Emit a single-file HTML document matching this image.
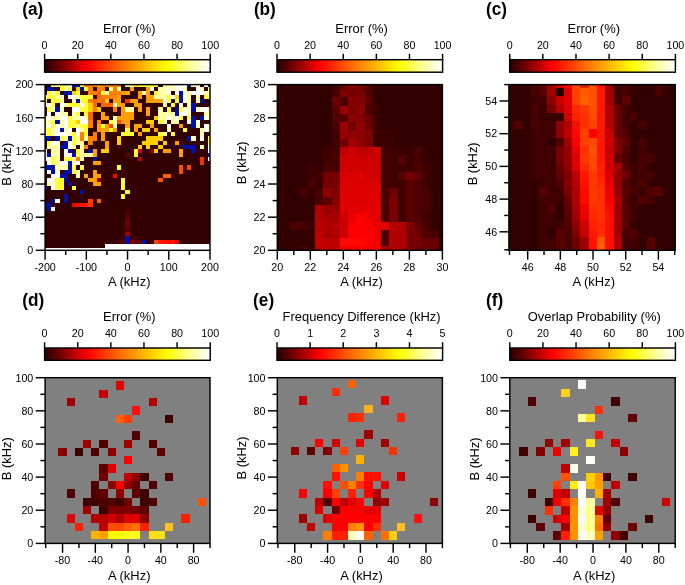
<!DOCTYPE html>
<html><head><meta charset="utf-8"><title>Figure</title>
<style>html,body{margin:0;padding:0;background:#fff}svg{display:block}</style></head>
<body>
<svg width="685" height="585" viewBox="0 0 685 585">
<defs><linearGradient id="hot" x1="0" y1="0" x2="1" y2="0">
<stop offset="0" stop-color="#240000"/><stop offset="0.13" stop-color="#900000"/><stop offset="0.26" stop-color="#ff0000"/>
<stop offset="0.5" stop-color="#ff8400"/><stop offset="0.74" stop-color="#ffff00"/><stop offset="0.87" stop-color="#ffff90"/><stop offset="1" stop-color="#ffffff"/>
</linearGradient></defs>
<rect width="685" height="585" fill="#fff"/>
<g shape-rendering="crispEdges">
<rect x="45.10" y="84.60" width="164.90" height="165.70" fill="#330000"/>
<rect x="51.28" y="84.60" width="4.12" height="2.07" fill="#ffff34"/>
<rect x="55.41" y="84.60" width="4.12" height="2.07" fill="#ffffa4"/>
<rect x="59.53" y="84.60" width="4.12" height="2.07" fill="#ffff34"/>
<rect x="63.65" y="84.60" width="8.25" height="2.07" fill="#ffffa4"/>
<rect x="71.90" y="84.60" width="8.24" height="2.07" fill="#0010a8"/>
<rect x="80.14" y="84.60" width="4.12" height="2.07" fill="#ffff34"/>
<rect x="84.26" y="84.60" width="12.37" height="2.07" fill="#ff8000"/>
<rect x="96.63" y="84.60" width="4.12" height="2.07" fill="#ffa000"/>
<rect x="100.75" y="84.60" width="20.61" height="2.07" fill="#ff8000"/>
<rect x="125.49" y="84.60" width="8.25" height="2.07" fill="#ffffa4"/>
<rect x="133.73" y="84.60" width="4.12" height="2.07" fill="#ffd000"/>
<rect x="137.86" y="84.60" width="20.61" height="2.07" fill="#ffff34"/>
<rect x="162.59" y="84.60" width="12.37" height="2.07" fill="#ffffa4"/>
<rect x="174.96" y="84.60" width="12.37" height="2.07" fill="#ffffff"/>
<rect x="187.33" y="84.60" width="4.12" height="2.07" fill="#0010a8"/>
<rect x="191.45" y="84.60" width="4.12" height="2.07" fill="#ffffa4"/>
<rect x="195.57" y="84.60" width="4.12" height="2.07" fill="#ffffff"/>
<rect x="203.82" y="84.60" width="4.12" height="2.07" fill="#ffffff"/>
<rect x="47.16" y="86.67" width="8.24" height="4.14" fill="#0010a8"/>
<rect x="59.53" y="86.67" width="4.12" height="4.14" fill="#ffff34"/>
<rect x="63.65" y="86.67" width="4.12" height="4.14" fill="#ffffa4"/>
<rect x="67.77" y="86.67" width="4.12" height="4.14" fill="#ffff34"/>
<rect x="76.02" y="86.67" width="4.12" height="4.14" fill="#ffd000"/>
<rect x="80.14" y="86.67" width="4.12" height="4.14" fill="#0010a8"/>
<rect x="84.26" y="86.67" width="4.12" height="4.14" fill="#ffff34"/>
<rect x="88.39" y="86.67" width="4.12" height="4.14" fill="#ff8000"/>
<rect x="96.63" y="86.67" width="8.25" height="4.14" fill="#ff8000"/>
<rect x="109.00" y="86.67" width="4.12" height="4.14" fill="#ffffa4"/>
<rect x="113.12" y="86.67" width="4.12" height="4.14" fill="#ff8000"/>
<rect x="117.24" y="86.67" width="4.12" height="4.14" fill="#ffffa4"/>
<rect x="129.61" y="86.67" width="4.12" height="4.14" fill="#ffa000"/>
<rect x="146.10" y="86.67" width="4.12" height="4.14" fill="#ffa000"/>
<rect x="150.22" y="86.67" width="4.12" height="4.14" fill="#ffffff"/>
<rect x="158.47" y="86.67" width="8.25" height="4.14" fill="#ffffa4"/>
<rect x="166.71" y="86.67" width="4.12" height="4.14" fill="#ffffff"/>
<rect x="170.84" y="86.67" width="4.12" height="4.14" fill="#ffffa4"/>
<rect x="174.96" y="86.67" width="8.25" height="4.14" fill="#ffffff"/>
<rect x="183.20" y="86.67" width="4.12" height="4.14" fill="#ffffa4"/>
<rect x="195.57" y="86.67" width="4.12" height="4.14" fill="#ffffff"/>
<rect x="199.69" y="86.67" width="4.12" height="4.14" fill="#ffffa4"/>
<rect x="207.94" y="86.67" width="2.06" height="4.14" fill="#ffffa4"/>
<rect x="47.16" y="90.81" width="4.12" height="4.14" fill="#ffff34"/>
<rect x="51.28" y="90.81" width="4.12" height="4.14" fill="#ffffa4"/>
<rect x="55.41" y="90.81" width="4.12" height="4.14" fill="#ffff34"/>
<rect x="63.65" y="90.81" width="8.25" height="4.14" fill="#0010a8"/>
<rect x="71.90" y="90.81" width="4.12" height="4.14" fill="#ffd000"/>
<rect x="76.02" y="90.81" width="4.12" height="4.14" fill="#ffff34"/>
<rect x="88.39" y="90.81" width="8.24" height="4.14" fill="#ff8000"/>
<rect x="96.63" y="90.81" width="4.12" height="4.14" fill="#ff6000"/>
<rect x="100.75" y="90.81" width="4.12" height="4.14" fill="#ffff34"/>
<rect x="104.88" y="90.81" width="4.12" height="4.14" fill="#ffffa4"/>
<rect x="109.00" y="90.81" width="12.37" height="4.14" fill="#ff8000"/>
<rect x="121.37" y="90.81" width="8.24" height="4.14" fill="#ffa000"/>
<rect x="137.86" y="90.81" width="4.12" height="4.14" fill="#ffa000"/>
<rect x="141.98" y="90.81" width="4.12" height="4.14" fill="#ffffa4"/>
<rect x="146.10" y="90.81" width="4.12" height="4.14" fill="#ffa000"/>
<rect x="154.35" y="90.81" width="4.12" height="4.14" fill="#ffff34"/>
<rect x="158.47" y="90.81" width="8.25" height="4.14" fill="#ffffa4"/>
<rect x="166.71" y="90.81" width="4.12" height="4.14" fill="#ffffff"/>
<rect x="174.96" y="90.81" width="4.12" height="4.14" fill="#ffffff"/>
<rect x="179.08" y="90.81" width="4.12" height="4.14" fill="#0010a8"/>
<rect x="183.20" y="90.81" width="4.12" height="4.14" fill="#ffffff"/>
<rect x="187.33" y="90.81" width="4.12" height="4.14" fill="#ffffa4"/>
<rect x="191.45" y="90.81" width="12.37" height="4.14" fill="#ffffff"/>
<rect x="203.82" y="90.81" width="6.18" height="4.14" fill="#ffffa4"/>
<rect x="45.10" y="94.96" width="2.06" height="4.14" fill="#ffffa4"/>
<rect x="47.16" y="94.96" width="8.24" height="4.14" fill="#ffff34"/>
<rect x="55.41" y="94.96" width="8.25" height="4.14" fill="#ffffa4"/>
<rect x="67.77" y="94.96" width="8.25" height="4.14" fill="#ffffff"/>
<rect x="76.02" y="94.96" width="4.12" height="4.14" fill="#ffffa4"/>
<rect x="80.14" y="94.96" width="12.37" height="4.14" fill="#ffff34"/>
<rect x="96.63" y="94.96" width="4.12" height="4.14" fill="#ff6000"/>
<rect x="100.75" y="94.96" width="16.49" height="4.14" fill="#ff8000"/>
<rect x="117.24" y="94.96" width="4.12" height="4.14" fill="#ffa000"/>
<rect x="137.86" y="94.96" width="4.12" height="4.14" fill="#ffa000"/>
<rect x="146.10" y="94.96" width="8.24" height="4.14" fill="#ffa000"/>
<rect x="154.35" y="94.96" width="12.37" height="4.14" fill="#ffffa4"/>
<rect x="166.71" y="94.96" width="4.12" height="4.14" fill="#ffff34"/>
<rect x="170.84" y="94.96" width="4.12" height="4.14" fill="#ffffff"/>
<rect x="174.96" y="94.96" width="4.12" height="4.14" fill="#ffd000"/>
<rect x="179.08" y="94.96" width="4.12" height="4.14" fill="#0010a8"/>
<rect x="183.20" y="94.96" width="4.12" height="4.14" fill="#ffffff"/>
<rect x="187.33" y="94.96" width="4.12" height="4.14" fill="#ffffa4"/>
<rect x="195.57" y="94.96" width="4.12" height="4.14" fill="#ffffa4"/>
<rect x="203.82" y="94.96" width="4.12" height="4.14" fill="#ffff34"/>
<rect x="207.94" y="94.96" width="2.06" height="4.14" fill="#ffffa4"/>
<rect x="45.10" y="99.10" width="2.06" height="4.14" fill="#ffff34"/>
<rect x="51.28" y="99.10" width="8.25" height="4.14" fill="#ffff34"/>
<rect x="59.53" y="99.10" width="4.12" height="4.14" fill="#ffffa4"/>
<rect x="71.90" y="99.10" width="4.12" height="4.14" fill="#ffffa4"/>
<rect x="76.02" y="99.10" width="4.12" height="4.14" fill="#0010a8"/>
<rect x="80.14" y="99.10" width="8.25" height="4.14" fill="#ffff34"/>
<rect x="88.39" y="99.10" width="4.12" height="4.14" fill="#ff8000"/>
<rect x="92.51" y="99.10" width="4.12" height="4.14" fill="#ff6000"/>
<rect x="96.63" y="99.10" width="4.12" height="4.14" fill="#ff8000"/>
<rect x="100.75" y="99.10" width="4.12" height="4.14" fill="#ff6000"/>
<rect x="104.88" y="99.10" width="4.12" height="4.14" fill="#ffd000"/>
<rect x="113.12" y="99.10" width="8.25" height="4.14" fill="#ffa000"/>
<rect x="125.49" y="99.10" width="4.12" height="4.14" fill="#ff3000"/>
<rect x="129.61" y="99.10" width="8.25" height="4.14" fill="#ffa000"/>
<rect x="146.10" y="99.10" width="16.49" height="4.14" fill="#ffa000"/>
<rect x="162.59" y="99.10" width="4.12" height="4.14" fill="#ffffff"/>
<rect x="166.71" y="99.10" width="4.12" height="4.14" fill="#ffff34"/>
<rect x="174.96" y="99.10" width="4.12" height="4.14" fill="#ffff34"/>
<rect x="179.08" y="99.10" width="4.12" height="4.14" fill="#0010a8"/>
<rect x="183.20" y="99.10" width="4.12" height="4.14" fill="#ffffff"/>
<rect x="187.33" y="99.10" width="4.12" height="4.14" fill="#ffffa4"/>
<rect x="195.57" y="99.10" width="4.12" height="4.14" fill="#ffffa4"/>
<rect x="199.69" y="99.10" width="4.12" height="4.14" fill="#0010a8"/>
<rect x="45.10" y="103.24" width="2.06" height="4.14" fill="#ffffa4"/>
<rect x="47.16" y="103.24" width="4.12" height="4.14" fill="#ffffff"/>
<rect x="51.28" y="103.24" width="4.12" height="4.14" fill="#ffff34"/>
<rect x="59.53" y="103.24" width="4.12" height="4.14" fill="#ffffff"/>
<rect x="63.65" y="103.24" width="4.12" height="4.14" fill="#ffffa4"/>
<rect x="67.77" y="103.24" width="12.37" height="4.14" fill="#ffff34"/>
<rect x="80.14" y="103.24" width="4.12" height="4.14" fill="#ffffff"/>
<rect x="84.26" y="103.24" width="4.12" height="4.14" fill="#ffff34"/>
<rect x="88.39" y="103.24" width="4.12" height="4.14" fill="#ffd000"/>
<rect x="92.51" y="103.24" width="4.12" height="4.14" fill="#ff6000"/>
<rect x="100.75" y="103.24" width="12.37" height="4.14" fill="#ff6000"/>
<rect x="113.12" y="103.24" width="4.12" height="4.14" fill="#ffffa4"/>
<rect x="117.24" y="103.24" width="8.25" height="4.14" fill="#ffa000"/>
<rect x="133.73" y="103.24" width="8.25" height="4.14" fill="#ffa000"/>
<rect x="162.59" y="103.24" width="4.12" height="4.14" fill="#ffffa4"/>
<rect x="170.84" y="103.24" width="4.12" height="4.14" fill="#ffff34"/>
<rect x="179.08" y="103.24" width="4.12" height="4.14" fill="#ffffff"/>
<rect x="187.33" y="103.24" width="4.12" height="4.14" fill="#ffffa4"/>
<rect x="191.45" y="103.24" width="4.12" height="4.14" fill="#0010a8"/>
<rect x="47.16" y="107.38" width="4.12" height="4.14" fill="#ffff34"/>
<rect x="51.28" y="107.38" width="4.12" height="4.14" fill="#ffffa4"/>
<rect x="55.41" y="107.38" width="4.12" height="4.14" fill="#0010a8"/>
<rect x="59.53" y="107.38" width="4.12" height="4.14" fill="#ffffa4"/>
<rect x="71.90" y="107.38" width="8.24" height="4.14" fill="#ffffff"/>
<rect x="80.14" y="107.38" width="8.25" height="4.14" fill="#ffff34"/>
<rect x="88.39" y="107.38" width="4.12" height="4.14" fill="#ffd000"/>
<rect x="92.51" y="107.38" width="4.12" height="4.14" fill="#ff8000"/>
<rect x="96.63" y="107.38" width="4.12" height="4.14" fill="#ffd000"/>
<rect x="113.12" y="107.38" width="4.12" height="4.14" fill="#ff8000"/>
<rect x="121.37" y="107.38" width="4.12" height="4.14" fill="#ffa000"/>
<rect x="125.49" y="107.38" width="8.25" height="4.14" fill="#ffffa4"/>
<rect x="137.86" y="107.38" width="4.12" height="4.14" fill="#ffa000"/>
<rect x="146.10" y="107.38" width="4.12" height="4.14" fill="#ffa000"/>
<rect x="158.47" y="107.38" width="4.12" height="4.14" fill="#ffffa4"/>
<rect x="166.71" y="107.38" width="4.12" height="4.14" fill="#ffff34"/>
<rect x="174.96" y="107.38" width="4.12" height="4.14" fill="#0010a8"/>
<rect x="179.08" y="107.38" width="4.12" height="4.14" fill="#ffff34"/>
<rect x="183.20" y="107.38" width="4.12" height="4.14" fill="#ffffff"/>
<rect x="187.33" y="107.38" width="4.12" height="4.14" fill="#ffffa4"/>
<rect x="191.45" y="107.38" width="4.12" height="4.14" fill="#0010a8"/>
<rect x="195.57" y="107.38" width="4.12" height="4.14" fill="#ffffa4"/>
<rect x="199.69" y="107.38" width="8.25" height="4.14" fill="#ffffff"/>
<rect x="207.94" y="107.38" width="2.06" height="4.14" fill="#ffffa4"/>
<rect x="47.16" y="111.53" width="4.12" height="4.14" fill="#ffffff"/>
<rect x="55.41" y="111.53" width="4.12" height="4.14" fill="#ffffff"/>
<rect x="59.53" y="111.53" width="8.25" height="4.14" fill="#ffffa4"/>
<rect x="71.90" y="111.53" width="4.12" height="4.14" fill="#ffffa4"/>
<rect x="76.02" y="111.53" width="4.12" height="4.14" fill="#ffff34"/>
<rect x="84.26" y="111.53" width="4.12" height="4.14" fill="#ffff34"/>
<rect x="88.39" y="111.53" width="4.12" height="4.14" fill="#ff6000"/>
<rect x="100.75" y="111.53" width="4.12" height="4.14" fill="#ffa000"/>
<rect x="121.37" y="111.53" width="12.37" height="4.14" fill="#ffa000"/>
<rect x="146.10" y="111.53" width="4.12" height="4.14" fill="#ffa000"/>
<rect x="158.47" y="111.53" width="16.49" height="4.14" fill="#ffffa4"/>
<rect x="174.96" y="111.53" width="4.12" height="4.14" fill="#0010a8"/>
<rect x="179.08" y="111.53" width="8.25" height="4.14" fill="#ffffff"/>
<rect x="187.33" y="111.53" width="4.12" height="4.14" fill="#ffffa4"/>
<rect x="203.82" y="111.53" width="6.18" height="4.14" fill="#ffffa4"/>
<rect x="45.10" y="115.67" width="2.06" height="4.14" fill="#ffffa4"/>
<rect x="47.16" y="115.67" width="4.12" height="4.14" fill="#ffffff"/>
<rect x="51.28" y="115.67" width="8.25" height="4.14" fill="#ffffa4"/>
<rect x="59.53" y="115.67" width="8.25" height="4.14" fill="#ffffff"/>
<rect x="67.77" y="115.67" width="4.12" height="4.14" fill="#ffff34"/>
<rect x="71.90" y="115.67" width="8.24" height="4.14" fill="#ffffa4"/>
<rect x="80.14" y="115.67" width="4.12" height="4.14" fill="#ffffff"/>
<rect x="84.26" y="115.67" width="4.12" height="4.14" fill="#ffffa4"/>
<rect x="88.39" y="115.67" width="4.12" height="4.14" fill="#ff6000"/>
<rect x="100.75" y="115.67" width="8.25" height="4.14" fill="#ffa000"/>
<rect x="113.12" y="115.67" width="4.12" height="4.14" fill="#ffffa4"/>
<rect x="117.24" y="115.67" width="16.49" height="4.14" fill="#ffa000"/>
<rect x="154.35" y="115.67" width="4.12" height="4.14" fill="#ffd000"/>
<rect x="158.47" y="115.67" width="8.25" height="4.14" fill="#ffffa4"/>
<rect x="166.71" y="115.67" width="4.12" height="4.14" fill="#ffffff"/>
<rect x="170.84" y="115.67" width="4.12" height="4.14" fill="#ffffa4"/>
<rect x="174.96" y="115.67" width="4.12" height="4.14" fill="#ffffff"/>
<rect x="179.08" y="115.67" width="4.12" height="4.14" fill="#ffff34"/>
<rect x="187.33" y="115.67" width="4.12" height="4.14" fill="#ffff34"/>
<rect x="191.45" y="115.67" width="4.12" height="4.14" fill="#0010a8"/>
<rect x="199.69" y="115.67" width="4.12" height="4.14" fill="#0010a8"/>
<rect x="203.82" y="115.67" width="4.12" height="4.14" fill="#ffffff"/>
<rect x="207.94" y="115.67" width="2.06" height="4.14" fill="#ffffa4"/>
<rect x="45.10" y="119.81" width="6.18" height="4.14" fill="#ffffa4"/>
<rect x="51.28" y="119.81" width="4.12" height="4.14" fill="#ffff34"/>
<rect x="55.41" y="119.81" width="4.12" height="4.14" fill="#0010a8"/>
<rect x="59.53" y="119.81" width="4.12" height="4.14" fill="#ffffa4"/>
<rect x="63.65" y="119.81" width="4.12" height="4.14" fill="#ffffff"/>
<rect x="67.77" y="119.81" width="8.25" height="4.14" fill="#ffff34"/>
<rect x="76.02" y="119.81" width="4.12" height="4.14" fill="#ffd000"/>
<rect x="80.14" y="119.81" width="8.25" height="4.14" fill="#ffffff"/>
<rect x="88.39" y="119.81" width="4.12" height="4.14" fill="#ff8000"/>
<rect x="96.63" y="119.81" width="4.12" height="4.14" fill="#ff8000"/>
<rect x="109.00" y="119.81" width="4.12" height="4.14" fill="#ffff34"/>
<rect x="113.12" y="119.81" width="4.12" height="4.14" fill="#ffffa4"/>
<rect x="117.24" y="119.81" width="4.12" height="4.14" fill="#ff5000"/>
<rect x="121.37" y="119.81" width="8.24" height="4.14" fill="#ffa000"/>
<rect x="146.10" y="119.81" width="8.24" height="4.14" fill="#ffd000"/>
<rect x="158.47" y="119.81" width="4.12" height="4.14" fill="#ffff34"/>
<rect x="162.59" y="119.81" width="4.12" height="4.14" fill="#ffffa4"/>
<rect x="170.84" y="119.81" width="8.25" height="4.14" fill="#ffffa4"/>
<rect x="187.33" y="119.81" width="4.12" height="4.14" fill="#ffffff"/>
<rect x="191.45" y="119.81" width="4.12" height="4.14" fill="#0010a8"/>
<rect x="195.57" y="119.81" width="4.12" height="4.14" fill="#ffffff"/>
<rect x="45.10" y="123.95" width="2.06" height="4.14" fill="#ffffa4"/>
<rect x="47.16" y="123.95" width="4.12" height="4.14" fill="#ffffff"/>
<rect x="51.28" y="123.95" width="4.12" height="4.14" fill="#ffff34"/>
<rect x="55.41" y="123.95" width="4.12" height="4.14" fill="#ffffff"/>
<rect x="59.53" y="123.95" width="4.12" height="4.14" fill="#ffffa4"/>
<rect x="63.65" y="123.95" width="4.12" height="4.14" fill="#ffffff"/>
<rect x="67.77" y="123.95" width="8.25" height="4.14" fill="#ffff34"/>
<rect x="76.02" y="123.95" width="4.12" height="4.14" fill="#ffffa4"/>
<rect x="80.14" y="123.95" width="8.25" height="4.14" fill="#ffff34"/>
<rect x="88.39" y="123.95" width="4.12" height="4.14" fill="#ff8000"/>
<rect x="96.63" y="123.95" width="4.12" height="4.14" fill="#ffa000"/>
<rect x="100.75" y="123.95" width="4.12" height="4.14" fill="#ffff34"/>
<rect x="104.88" y="123.95" width="4.12" height="4.14" fill="#ffa000"/>
<rect x="109.00" y="123.95" width="4.12" height="4.14" fill="#ff4000"/>
<rect x="113.12" y="123.95" width="4.12" height="4.14" fill="#ffffa4"/>
<rect x="125.49" y="123.95" width="4.12" height="4.14" fill="#ffa000"/>
<rect x="133.73" y="123.95" width="8.25" height="4.14" fill="#ffa000"/>
<rect x="150.22" y="123.95" width="4.12" height="4.14" fill="#ffa000"/>
<rect x="166.71" y="123.95" width="4.12" height="4.14" fill="#ffffff"/>
<rect x="179.08" y="123.95" width="4.12" height="4.14" fill="#ffa000"/>
<rect x="191.45" y="123.95" width="4.12" height="4.14" fill="#0010a8"/>
<rect x="195.57" y="123.95" width="4.12" height="4.14" fill="#ffffa4"/>
<rect x="203.82" y="123.95" width="4.12" height="4.14" fill="#ffffff"/>
<rect x="207.94" y="123.95" width="2.06" height="4.14" fill="#ffffa4"/>
<rect x="45.10" y="128.10" width="6.18" height="4.14" fill="#ffff34"/>
<rect x="51.28" y="128.10" width="4.12" height="4.14" fill="#ffffa4"/>
<rect x="55.41" y="128.10" width="4.12" height="4.14" fill="#ffffff"/>
<rect x="59.53" y="128.10" width="4.12" height="4.14" fill="#0010a8"/>
<rect x="63.65" y="128.10" width="4.12" height="4.14" fill="#ffffa4"/>
<rect x="67.77" y="128.10" width="4.12" height="4.14" fill="#ffffff"/>
<rect x="76.02" y="128.10" width="4.12" height="4.14" fill="#ffffff"/>
<rect x="80.14" y="128.10" width="4.12" height="4.14" fill="#ffffa4"/>
<rect x="84.26" y="128.10" width="4.12" height="4.14" fill="#ffff34"/>
<rect x="96.63" y="128.10" width="12.37" height="4.14" fill="#ffa000"/>
<rect x="109.00" y="128.10" width="4.12" height="4.14" fill="#ffff34"/>
<rect x="113.12" y="128.10" width="4.12" height="4.14" fill="#ffa000"/>
<rect x="125.49" y="128.10" width="4.12" height="4.14" fill="#ffff34"/>
<rect x="133.73" y="128.10" width="4.12" height="4.14" fill="#ffa000"/>
<rect x="141.98" y="128.10" width="8.24" height="4.14" fill="#ffd000"/>
<rect x="154.35" y="128.10" width="4.12" height="4.14" fill="#ffa000"/>
<rect x="166.71" y="128.10" width="4.12" height="4.14" fill="#ffffa4"/>
<rect x="183.20" y="128.10" width="4.12" height="4.14" fill="#ffff34"/>
<rect x="199.69" y="128.10" width="4.12" height="4.14" fill="#ffffa4"/>
<rect x="203.82" y="128.10" width="4.12" height="4.14" fill="#ffffff"/>
<rect x="207.94" y="128.10" width="2.06" height="4.14" fill="#ffffa4"/>
<rect x="45.10" y="132.24" width="2.06" height="4.14" fill="#ffffa4"/>
<rect x="47.16" y="132.24" width="4.12" height="4.14" fill="#ffff34"/>
<rect x="51.28" y="132.24" width="4.12" height="4.14" fill="#ffffa4"/>
<rect x="55.41" y="132.24" width="12.37" height="4.14" fill="#ffffff"/>
<rect x="67.77" y="132.24" width="4.12" height="4.14" fill="#ffffa4"/>
<rect x="71.90" y="132.24" width="4.12" height="4.14" fill="#ffff34"/>
<rect x="76.02" y="132.24" width="4.12" height="4.14" fill="#ffffff"/>
<rect x="80.14" y="132.24" width="4.12" height="4.14" fill="#ff8000"/>
<rect x="84.26" y="132.24" width="4.12" height="4.14" fill="#ffff34"/>
<rect x="92.51" y="132.24" width="4.12" height="4.14" fill="#ff8000"/>
<rect x="100.75" y="132.24" width="4.12" height="4.14" fill="#ffa000"/>
<rect x="121.37" y="132.24" width="12.37" height="4.14" fill="#ffff34"/>
<rect x="137.86" y="132.24" width="4.12" height="4.14" fill="#ffa000"/>
<rect x="158.47" y="132.24" width="4.12" height="4.14" fill="#ffff34"/>
<rect x="162.59" y="132.24" width="4.12" height="4.14" fill="#ffffa4"/>
<rect x="170.84" y="132.24" width="4.12" height="4.14" fill="#ffff34"/>
<rect x="199.69" y="132.24" width="4.12" height="4.14" fill="#ffffa4"/>
<rect x="45.10" y="136.38" width="6.18" height="4.14" fill="#0010a8"/>
<rect x="55.41" y="136.38" width="4.12" height="4.14" fill="#0010a8"/>
<rect x="59.53" y="136.38" width="4.12" height="4.14" fill="#ffff34"/>
<rect x="63.65" y="136.38" width="4.12" height="4.14" fill="#ffffa4"/>
<rect x="67.77" y="136.38" width="4.12" height="4.14" fill="#0010a8"/>
<rect x="71.90" y="136.38" width="4.12" height="4.14" fill="#ffff34"/>
<rect x="76.02" y="136.38" width="4.12" height="4.14" fill="#ffffa4"/>
<rect x="80.14" y="136.38" width="4.12" height="4.14" fill="#ff8000"/>
<rect x="84.26" y="136.38" width="4.12" height="4.14" fill="#ffffa4"/>
<rect x="88.39" y="136.38" width="8.24" height="4.14" fill="#ff8000"/>
<rect x="100.75" y="136.38" width="4.12" height="4.14" fill="#ffa000"/>
<rect x="117.24" y="136.38" width="4.12" height="4.14" fill="#ffd000"/>
<rect x="146.10" y="136.38" width="16.49" height="4.14" fill="#ffd000"/>
<rect x="187.33" y="136.38" width="4.12" height="4.14" fill="#0010a8"/>
<rect x="191.45" y="136.38" width="4.12" height="4.14" fill="#ffffa4"/>
<rect x="199.69" y="136.38" width="4.12" height="4.14" fill="#ffffff"/>
<rect x="207.94" y="136.38" width="2.06" height="4.14" fill="#ffff34"/>
<rect x="47.16" y="140.52" width="4.12" height="4.14" fill="#ffff34"/>
<rect x="51.28" y="140.52" width="8.25" height="4.14" fill="#ffffff"/>
<rect x="63.65" y="140.52" width="4.12" height="4.14" fill="#0010a8"/>
<rect x="67.77" y="140.52" width="4.12" height="4.14" fill="#ffffff"/>
<rect x="71.90" y="140.52" width="4.12" height="4.14" fill="#ffff34"/>
<rect x="76.02" y="140.52" width="8.24" height="4.14" fill="#ffffa4"/>
<rect x="88.39" y="140.52" width="4.12" height="4.14" fill="#ff8000"/>
<rect x="104.88" y="140.52" width="4.12" height="4.14" fill="#ffa000"/>
<rect x="117.24" y="140.52" width="4.12" height="4.14" fill="#ffd000"/>
<rect x="141.98" y="140.52" width="16.49" height="4.14" fill="#ffd000"/>
<rect x="162.59" y="140.52" width="4.12" height="4.14" fill="#ffd000"/>
<rect x="174.96" y="140.52" width="4.12" height="4.14" fill="#ffa000"/>
<rect x="207.94" y="140.52" width="2.06" height="4.14" fill="#ffff34"/>
<rect x="47.16" y="144.67" width="12.37" height="4.14" fill="#ffffa4"/>
<rect x="59.53" y="144.67" width="8.25" height="4.14" fill="#0010a8"/>
<rect x="67.77" y="144.67" width="4.12" height="4.14" fill="#ffffff"/>
<rect x="71.90" y="144.67" width="4.12" height="4.14" fill="#ffffa4"/>
<rect x="80.14" y="144.67" width="4.12" height="4.14" fill="#ffffa4"/>
<rect x="84.26" y="144.67" width="4.12" height="4.14" fill="#ff8000"/>
<rect x="104.88" y="144.67" width="4.12" height="4.14" fill="#ffa000"/>
<rect x="117.24" y="144.67" width="4.12" height="4.14" fill="#500000"/>
<rect x="137.86" y="144.67" width="4.12" height="4.14" fill="#ffd000"/>
<rect x="146.10" y="144.67" width="4.12" height="4.14" fill="#ffd000"/>
<rect x="158.47" y="144.67" width="4.12" height="4.14" fill="#ffd000"/>
<rect x="183.20" y="144.67" width="12.37" height="4.14" fill="#0010a8"/>
<rect x="199.69" y="144.67" width="4.12" height="4.14" fill="#ffffa4"/>
<rect x="207.94" y="144.67" width="2.06" height="4.14" fill="#ffffff"/>
<rect x="45.10" y="148.81" width="2.06" height="4.14" fill="#ffffff"/>
<rect x="51.28" y="148.81" width="8.25" height="4.14" fill="#ffffa4"/>
<rect x="63.65" y="148.81" width="4.12" height="4.14" fill="#ffffff"/>
<rect x="67.77" y="148.81" width="4.12" height="4.14" fill="#0010a8"/>
<rect x="76.02" y="148.81" width="4.12" height="4.14" fill="#ffff34"/>
<rect x="80.14" y="148.81" width="4.12" height="4.14" fill="#ffffa4"/>
<rect x="88.39" y="148.81" width="4.12" height="4.14" fill="#0010a8"/>
<rect x="92.51" y="148.81" width="4.12" height="4.14" fill="#ffa000"/>
<rect x="100.75" y="148.81" width="8.25" height="4.14" fill="#ffd000"/>
<rect x="133.73" y="148.81" width="4.12" height="4.14" fill="#ffff34"/>
<rect x="137.86" y="148.81" width="4.12" height="4.14" fill="#d00000"/>
<rect x="150.22" y="148.81" width="4.12" height="4.14" fill="#900000"/>
<rect x="154.35" y="148.81" width="4.12" height="4.14" fill="#ffd000"/>
<rect x="162.59" y="148.81" width="8.25" height="4.14" fill="#ffa000"/>
<rect x="179.08" y="148.81" width="4.12" height="4.14" fill="#ffa000"/>
<rect x="191.45" y="148.81" width="4.12" height="4.14" fill="#0010a8"/>
<rect x="207.94" y="148.81" width="2.06" height="4.14" fill="#ffffff"/>
<rect x="45.10" y="152.95" width="2.06" height="4.14" fill="#ffffff"/>
<rect x="47.16" y="152.95" width="4.12" height="4.14" fill="#0010a8"/>
<rect x="51.28" y="152.95" width="8.25" height="4.14" fill="#ffffa4"/>
<rect x="63.65" y="152.95" width="8.25" height="4.14" fill="#ffffff"/>
<rect x="71.90" y="152.95" width="4.12" height="4.14" fill="#0010a8"/>
<rect x="76.02" y="152.95" width="4.12" height="4.14" fill="#ffff34"/>
<rect x="80.14" y="152.95" width="12.37" height="4.14" fill="#ffffa4"/>
<rect x="92.51" y="152.95" width="4.12" height="4.14" fill="#ffa000"/>
<rect x="125.49" y="152.95" width="4.12" height="4.14" fill="#600000"/>
<rect x="133.73" y="152.95" width="4.12" height="4.14" fill="#ffff34"/>
<rect x="179.08" y="152.95" width="4.12" height="4.14" fill="#ffa000"/>
<rect x="207.94" y="152.95" width="2.06" height="4.14" fill="#0010a8"/>
<rect x="45.10" y="157.09" width="6.18" height="4.14" fill="#ffffff"/>
<rect x="51.28" y="157.09" width="4.12" height="4.14" fill="#ffff34"/>
<rect x="55.41" y="157.09" width="4.12" height="4.14" fill="#ffffa4"/>
<rect x="63.65" y="157.09" width="8.25" height="4.14" fill="#ffff34"/>
<rect x="71.90" y="157.09" width="4.12" height="4.14" fill="#ffffa4"/>
<rect x="76.02" y="157.09" width="4.12" height="4.14" fill="#ff8000"/>
<rect x="80.14" y="157.09" width="4.12" height="4.14" fill="#ffffa4"/>
<rect x="92.51" y="157.09" width="4.12" height="4.14" fill="#0010a8"/>
<rect x="137.86" y="157.09" width="4.12" height="4.14" fill="#c00000"/>
<rect x="199.69" y="157.09" width="4.12" height="4.14" fill="#ff3000"/>
<rect x="207.94" y="157.09" width="2.06" height="4.14" fill="#ffffff"/>
<rect x="47.16" y="161.24" width="4.12" height="4.14" fill="#ffffff"/>
<rect x="51.28" y="161.24" width="4.12" height="4.14" fill="#ffff34"/>
<rect x="55.41" y="161.24" width="4.12" height="4.14" fill="#ffffa4"/>
<rect x="59.53" y="161.24" width="8.25" height="4.14" fill="#ffffff"/>
<rect x="67.77" y="161.24" width="4.12" height="4.14" fill="#0010a8"/>
<rect x="71.90" y="161.24" width="4.12" height="4.14" fill="#ffffa4"/>
<rect x="76.02" y="161.24" width="4.12" height="4.14" fill="#ffffff"/>
<rect x="92.51" y="161.24" width="8.25" height="4.14" fill="#ffa000"/>
<rect x="199.69" y="161.24" width="4.12" height="4.14" fill="#ff3000"/>
<rect x="45.10" y="165.38" width="10.31" height="4.14" fill="#0010a8"/>
<rect x="55.41" y="165.38" width="12.37" height="4.14" fill="#ffffa4"/>
<rect x="67.77" y="165.38" width="4.12" height="4.14" fill="#0010a8"/>
<rect x="71.90" y="165.38" width="4.12" height="4.14" fill="#ffff34"/>
<rect x="80.14" y="165.38" width="4.12" height="4.14" fill="#ffff34"/>
<rect x="117.24" y="165.38" width="4.12" height="4.14" fill="#ffff34"/>
<rect x="179.08" y="165.38" width="4.12" height="4.14" fill="#ff5000"/>
<rect x="187.33" y="165.38" width="4.12" height="4.14" fill="#ff4000"/>
<rect x="47.16" y="169.52" width="4.12" height="4.14" fill="#ffffff"/>
<rect x="51.28" y="169.52" width="4.12" height="4.14" fill="#0010a8"/>
<rect x="55.41" y="169.52" width="4.12" height="4.14" fill="#ffffff"/>
<rect x="63.65" y="169.52" width="8.25" height="4.14" fill="#0010a8"/>
<rect x="71.90" y="169.52" width="4.12" height="4.14" fill="#ffff34"/>
<rect x="76.02" y="169.52" width="4.12" height="4.14" fill="#ffffa4"/>
<rect x="92.51" y="169.52" width="4.12" height="4.14" fill="#ffa000"/>
<rect x="100.75" y="169.52" width="4.12" height="4.14" fill="#480000"/>
<rect x="121.37" y="169.52" width="4.12" height="4.14" fill="#500000"/>
<rect x="179.08" y="169.52" width="4.12" height="4.14" fill="#ff5000"/>
<rect x="51.28" y="173.66" width="8.25" height="4.14" fill="#ffffff"/>
<rect x="59.53" y="173.66" width="8.25" height="4.14" fill="#0010a8"/>
<rect x="76.02" y="173.66" width="4.12" height="4.14" fill="#ffffa4"/>
<rect x="84.26" y="173.66" width="4.12" height="4.14" fill="#ffa000"/>
<rect x="92.51" y="173.66" width="8.25" height="4.14" fill="#ffa000"/>
<rect x="113.12" y="173.66" width="4.12" height="4.14" fill="#ff0000"/>
<rect x="162.59" y="173.66" width="8.25" height="4.14" fill="#ff6000"/>
<rect x="47.16" y="177.81" width="8.24" height="4.14" fill="#ffffff"/>
<rect x="55.41" y="177.81" width="8.25" height="4.14" fill="#ffff34"/>
<rect x="63.65" y="177.81" width="4.12" height="4.14" fill="#0010a8"/>
<rect x="88.39" y="177.81" width="8.24" height="4.14" fill="#ffa000"/>
<rect x="96.63" y="177.81" width="4.12" height="4.14" fill="#a00000"/>
<rect x="121.37" y="177.81" width="4.12" height="4.14" fill="#ffff34"/>
<rect x="158.47" y="177.81" width="4.12" height="4.14" fill="#ff5000"/>
<rect x="47.16" y="181.95" width="4.12" height="4.14" fill="#ffffa4"/>
<rect x="51.28" y="181.95" width="4.12" height="4.14" fill="#ffffff"/>
<rect x="55.41" y="181.95" width="8.25" height="4.14" fill="#ffff34"/>
<rect x="67.77" y="181.95" width="4.12" height="4.14" fill="#0010a8"/>
<rect x="92.51" y="181.95" width="8.25" height="4.14" fill="#ffa000"/>
<rect x="121.37" y="181.95" width="4.12" height="4.14" fill="#ffff34"/>
<rect x="45.10" y="186.09" width="2.06" height="4.14" fill="#0010a8"/>
<rect x="51.28" y="186.09" width="4.12" height="4.14" fill="#ffffff"/>
<rect x="55.41" y="186.09" width="8.25" height="4.14" fill="#ffff34"/>
<rect x="71.90" y="186.09" width="4.12" height="4.14" fill="#ffff34"/>
<rect x="121.37" y="186.09" width="4.12" height="4.14" fill="#ffff34"/>
<rect x="80.14" y="190.23" width="4.12" height="4.14" fill="#0010a8"/>
<rect x="125.49" y="190.23" width="4.12" height="4.14" fill="#ffff34"/>
<rect x="63.65" y="194.38" width="4.12" height="4.14" fill="#0010a8"/>
<rect x="121.37" y="194.38" width="4.12" height="4.14" fill="#ffff34"/>
<rect x="51.28" y="198.52" width="4.12" height="4.14" fill="#0010a8"/>
<rect x="55.41" y="198.52" width="4.12" height="4.14" fill="#ffffff"/>
<rect x="63.65" y="198.52" width="4.12" height="4.14" fill="#0010a8"/>
<rect x="88.39" y="198.52" width="4.12" height="4.14" fill="#ff4000"/>
<rect x="96.63" y="198.52" width="4.12" height="4.14" fill="#ff6000"/>
<rect x="45.10" y="202.66" width="6.18" height="4.14" fill="#0010a8"/>
<rect x="71.90" y="202.66" width="4.12" height="4.14" fill="#f00000"/>
<rect x="76.02" y="202.66" width="4.12" height="4.14" fill="#ff1000"/>
<rect x="80.14" y="202.66" width="4.12" height="4.14" fill="#ff1800"/>
<rect x="84.26" y="202.66" width="4.12" height="4.14" fill="#ff2000"/>
<rect x="88.39" y="202.66" width="4.12" height="4.14" fill="#ff3000"/>
<rect x="47.16" y="206.80" width="4.12" height="4.14" fill="#0010a8"/>
<rect x="51.28" y="206.80" width="4.12" height="4.14" fill="#ffffff"/>
<rect x="125.49" y="206.80" width="4.12" height="4.14" fill="#400000"/>
<rect x="125.49" y="210.95" width="4.12" height="4.14" fill="#4c0000"/>
<rect x="125.49" y="215.09" width="4.12" height="4.14" fill="#540000"/>
<rect x="125.49" y="219.23" width="4.12" height="4.14" fill="#740000"/>
<rect x="125.49" y="223.37" width="4.12" height="4.14" fill="#6c0000"/>
<rect x="125.49" y="227.52" width="4.12" height="4.14" fill="#540000"/>
<rect x="125.49" y="231.66" width="4.12" height="4.14" fill="#a00000"/>
<rect x="121.37" y="235.80" width="4.12" height="4.14" fill="#480000"/>
<rect x="125.49" y="235.80" width="4.12" height="4.14" fill="#0010a8"/>
<rect x="129.61" y="235.80" width="8.25" height="4.14" fill="#480000"/>
<rect x="137.86" y="235.80" width="4.12" height="4.14" fill="#400000"/>
<rect x="100.75" y="239.94" width="4.12" height="4.14" fill="#3c0000"/>
<rect x="109.00" y="239.94" width="4.12" height="4.14" fill="#3c0000"/>
<rect x="113.12" y="239.94" width="4.12" height="4.14" fill="#400000"/>
<rect x="117.24" y="239.94" width="4.12" height="4.14" fill="#480000"/>
<rect x="121.37" y="239.94" width="4.12" height="4.14" fill="#600000"/>
<rect x="125.49" y="239.94" width="4.12" height="4.14" fill="#0010a8"/>
<rect x="129.61" y="239.94" width="4.12" height="4.14" fill="#800000"/>
<rect x="133.73" y="239.94" width="4.12" height="4.14" fill="#700000"/>
<rect x="137.86" y="239.94" width="4.12" height="4.14" fill="#600000"/>
<rect x="141.98" y="239.94" width="4.12" height="4.14" fill="#0010a8"/>
<rect x="154.35" y="239.94" width="4.12" height="4.14" fill="#ff4000"/>
<rect x="158.47" y="239.94" width="4.12" height="4.14" fill="#ff2000"/>
<rect x="162.59" y="239.94" width="4.12" height="4.14" fill="#ff1000"/>
<rect x="166.71" y="239.94" width="4.12" height="4.14" fill="#ff0800"/>
<rect x="170.84" y="239.94" width="4.12" height="4.14" fill="#ff1800"/>
<rect x="174.96" y="239.94" width="4.12" height="4.14" fill="#e80000"/>
<rect x="104.88" y="244.09" width="105.12" height="4.14" fill="#ffffff"/>
<rect x="45.10" y="248.23" width="164.90" height="2.07" fill="#ffffff"/>
<rect x="277.30" y="84.60" width="165.10" height="165.70" fill="#330000"/>
<rect x="331.56" y="84.60" width="8.25" height="4.44" fill="#450000"/>
<rect x="339.81" y="84.60" width="8.25" height="4.44" fill="#600000"/>
<rect x="348.07" y="84.60" width="8.25" height="4.44" fill="#870000"/>
<rect x="356.32" y="84.60" width="8.25" height="4.44" fill="#720000"/>
<rect x="364.58" y="84.60" width="8.25" height="4.44" fill="#4a0000"/>
<rect x="331.56" y="89.04" width="8.25" height="8.28" fill="#4a0000"/>
<rect x="339.81" y="89.04" width="8.25" height="8.28" fill="#7f0000"/>
<rect x="348.07" y="89.04" width="16.51" height="8.28" fill="#780000"/>
<rect x="364.58" y="89.04" width="8.25" height="8.28" fill="#510000"/>
<rect x="331.56" y="97.33" width="8.25" height="8.29" fill="#6b0000"/>
<rect x="339.81" y="97.33" width="8.25" height="8.29" fill="#4a0000"/>
<rect x="348.07" y="97.33" width="16.51" height="8.29" fill="#850000"/>
<rect x="364.58" y="97.33" width="8.25" height="8.29" fill="#5e0000"/>
<rect x="331.56" y="105.61" width="8.25" height="8.28" fill="#570000"/>
<rect x="339.81" y="105.61" width="8.25" height="8.28" fill="#990000"/>
<rect x="348.07" y="105.61" width="8.25" height="8.28" fill="#7f0000"/>
<rect x="356.32" y="105.61" width="8.25" height="8.28" fill="#8c0000"/>
<rect x="364.58" y="105.61" width="8.25" height="8.28" fill="#4a0000"/>
<rect x="372.83" y="105.61" width="8.25" height="8.28" fill="#3d0000"/>
<rect x="331.56" y="113.90" width="8.25" height="8.28" fill="#520000"/>
<rect x="339.81" y="113.90" width="8.25" height="8.28" fill="#570000"/>
<rect x="348.07" y="113.90" width="8.25" height="8.28" fill="#8c0000"/>
<rect x="356.32" y="113.90" width="8.25" height="8.28" fill="#850000"/>
<rect x="364.58" y="113.90" width="8.25" height="8.28" fill="#650000"/>
<rect x="372.83" y="113.90" width="8.25" height="8.28" fill="#3d0000"/>
<rect x="331.56" y="122.18" width="8.25" height="8.29" fill="#4a0000"/>
<rect x="339.81" y="122.18" width="8.25" height="8.29" fill="#990000"/>
<rect x="348.07" y="122.18" width="8.25" height="8.29" fill="#720000"/>
<rect x="356.32" y="122.18" width="8.25" height="8.29" fill="#920000"/>
<rect x="364.58" y="122.18" width="8.25" height="8.29" fill="#6b0000"/>
<rect x="372.83" y="122.18" width="8.25" height="8.29" fill="#3d0000"/>
<rect x="331.56" y="130.47" width="8.25" height="8.28" fill="#440000"/>
<rect x="339.81" y="130.47" width="8.25" height="8.28" fill="#990000"/>
<rect x="348.07" y="130.47" width="16.51" height="8.28" fill="#8c0000"/>
<rect x="364.58" y="130.47" width="8.25" height="8.28" fill="#7f0000"/>
<rect x="372.83" y="130.47" width="8.25" height="8.28" fill="#3d0000"/>
<rect x="381.09" y="130.47" width="16.51" height="8.28" fill="#3a0000"/>
<rect x="331.56" y="138.75" width="8.25" height="8.29" fill="#440000"/>
<rect x="339.81" y="138.75" width="8.25" height="8.29" fill="#720000"/>
<rect x="348.07" y="138.75" width="8.25" height="8.29" fill="#a00000"/>
<rect x="356.32" y="138.75" width="8.25" height="8.29" fill="#920000"/>
<rect x="364.58" y="138.75" width="8.25" height="8.29" fill="#780000"/>
<rect x="372.83" y="138.75" width="8.25" height="8.29" fill="#3d0000"/>
<rect x="381.09" y="138.75" width="16.51" height="8.29" fill="#3a0000"/>
<rect x="323.30" y="147.04" width="8.25" height="8.28" fill="#400000"/>
<rect x="331.56" y="147.04" width="8.25" height="8.28" fill="#480000"/>
<rect x="339.81" y="147.04" width="8.25" height="8.28" fill="#c00000"/>
<rect x="348.07" y="147.04" width="8.25" height="8.28" fill="#d00000"/>
<rect x="356.32" y="147.04" width="16.51" height="8.28" fill="#c00000"/>
<rect x="372.83" y="147.04" width="8.25" height="8.28" fill="#d00000"/>
<rect x="381.09" y="147.04" width="16.51" height="8.28" fill="#400000"/>
<rect x="397.60" y="147.04" width="16.51" height="8.28" fill="#3a0000"/>
<rect x="414.11" y="147.04" width="8.26" height="8.28" fill="#480000"/>
<rect x="323.30" y="155.32" width="8.25" height="8.28" fill="#400000"/>
<rect x="331.56" y="155.32" width="8.25" height="8.28" fill="#480000"/>
<rect x="339.81" y="155.32" width="33.02" height="8.28" fill="#d00000"/>
<rect x="372.83" y="155.32" width="8.25" height="8.28" fill="#c80000"/>
<rect x="381.09" y="155.32" width="16.51" height="8.28" fill="#400000"/>
<rect x="397.60" y="155.32" width="8.25" height="8.28" fill="#580000"/>
<rect x="405.85" y="155.32" width="8.25" height="8.28" fill="#3a0000"/>
<rect x="414.11" y="155.32" width="8.26" height="8.28" fill="#480000"/>
<rect x="306.79" y="163.61" width="8.25" height="8.28" fill="#400000"/>
<rect x="315.05" y="163.61" width="8.25" height="8.28" fill="#380000"/>
<rect x="323.30" y="163.61" width="16.51" height="8.28" fill="#480000"/>
<rect x="339.81" y="163.61" width="41.27" height="8.28" fill="#d00000"/>
<rect x="381.09" y="163.61" width="33.02" height="8.28" fill="#400000"/>
<rect x="414.11" y="163.61" width="8.26" height="8.28" fill="#480000"/>
<rect x="422.36" y="163.61" width="8.25" height="8.28" fill="#400000"/>
<rect x="306.79" y="171.89" width="8.25" height="8.28" fill="#3a0000"/>
<rect x="315.05" y="171.89" width="8.25" height="8.28" fill="#400000"/>
<rect x="323.30" y="171.89" width="16.51" height="8.28" fill="#780000"/>
<rect x="339.81" y="171.89" width="16.51" height="8.28" fill="#d80000"/>
<rect x="356.32" y="171.89" width="8.25" height="8.28" fill="#e00000"/>
<rect x="364.58" y="171.89" width="16.51" height="8.28" fill="#d00000"/>
<rect x="381.09" y="171.89" width="16.51" height="8.28" fill="#400000"/>
<rect x="397.60" y="171.89" width="8.25" height="8.28" fill="#580000"/>
<rect x="405.85" y="171.89" width="8.25" height="8.28" fill="#780000"/>
<rect x="414.11" y="171.89" width="8.26" height="8.28" fill="#600000"/>
<rect x="422.36" y="171.89" width="8.25" height="8.28" fill="#400000"/>
<rect x="306.79" y="180.18" width="8.25" height="8.29" fill="#480000"/>
<rect x="315.05" y="180.18" width="8.25" height="8.29" fill="#380000"/>
<rect x="323.30" y="180.18" width="16.51" height="8.29" fill="#780000"/>
<rect x="339.81" y="180.18" width="41.27" height="8.29" fill="#dc0000"/>
<rect x="381.09" y="180.18" width="24.77" height="8.29" fill="#400000"/>
<rect x="405.85" y="180.18" width="8.25" height="8.29" fill="#580000"/>
<rect x="414.11" y="180.18" width="8.26" height="8.29" fill="#500000"/>
<rect x="422.36" y="180.18" width="8.25" height="8.29" fill="#400000"/>
<rect x="298.54" y="188.46" width="8.25" height="8.28" fill="#480000"/>
<rect x="306.79" y="188.46" width="8.25" height="8.28" fill="#380000"/>
<rect x="315.05" y="188.46" width="8.25" height="8.28" fill="#480000"/>
<rect x="323.30" y="188.46" width="8.25" height="8.28" fill="#900000"/>
<rect x="331.56" y="188.46" width="8.25" height="8.28" fill="#800000"/>
<rect x="339.81" y="188.46" width="41.27" height="8.28" fill="#dc0000"/>
<rect x="381.09" y="188.46" width="8.26" height="8.28" fill="#480000"/>
<rect x="389.34" y="188.46" width="8.25" height="8.28" fill="#700000"/>
<rect x="397.60" y="188.46" width="8.25" height="8.28" fill="#400000"/>
<rect x="405.85" y="188.46" width="8.25" height="8.28" fill="#580000"/>
<rect x="414.11" y="188.46" width="8.26" height="8.28" fill="#500000"/>
<rect x="422.36" y="188.46" width="8.25" height="8.28" fill="#480000"/>
<rect x="315.05" y="196.75" width="8.25" height="8.29" fill="#480000"/>
<rect x="323.30" y="196.75" width="8.25" height="8.29" fill="#600000"/>
<rect x="331.56" y="196.75" width="8.25" height="8.29" fill="#880000"/>
<rect x="339.81" y="196.75" width="41.27" height="8.29" fill="#e00000"/>
<rect x="381.09" y="196.75" width="8.26" height="8.29" fill="#480000"/>
<rect x="389.34" y="196.75" width="8.25" height="8.29" fill="#800000"/>
<rect x="397.60" y="196.75" width="8.25" height="8.29" fill="#400000"/>
<rect x="405.85" y="196.75" width="8.25" height="8.29" fill="#580000"/>
<rect x="414.11" y="196.75" width="8.26" height="8.29" fill="#500000"/>
<rect x="422.36" y="196.75" width="8.25" height="8.29" fill="#480000"/>
<rect x="315.05" y="205.03" width="8.25" height="8.28" fill="#b00000"/>
<rect x="323.30" y="205.03" width="16.51" height="8.28" fill="#980000"/>
<rect x="339.81" y="205.03" width="8.25" height="8.28" fill="#e00000"/>
<rect x="348.07" y="205.03" width="33.02" height="8.28" fill="#e40000"/>
<rect x="381.09" y="205.03" width="8.26" height="8.28" fill="#480000"/>
<rect x="389.34" y="205.03" width="8.25" height="8.28" fill="#780000"/>
<rect x="397.60" y="205.03" width="8.25" height="8.28" fill="#400000"/>
<rect x="405.85" y="205.03" width="8.25" height="8.28" fill="#580000"/>
<rect x="414.11" y="205.03" width="8.26" height="8.28" fill="#500000"/>
<rect x="422.36" y="205.03" width="8.25" height="8.28" fill="#480000"/>
<rect x="315.05" y="213.32" width="8.25" height="8.28" fill="#b80000"/>
<rect x="323.30" y="213.32" width="16.51" height="8.28" fill="#a80000"/>
<rect x="339.81" y="213.32" width="8.25" height="8.28" fill="#d00000"/>
<rect x="348.07" y="213.32" width="8.25" height="8.28" fill="#e80000"/>
<rect x="356.32" y="213.32" width="8.25" height="8.28" fill="#ff0000"/>
<rect x="364.58" y="213.32" width="8.25" height="8.28" fill="#f00000"/>
<rect x="372.83" y="213.32" width="8.25" height="8.28" fill="#e00000"/>
<rect x="381.09" y="213.32" width="8.26" height="8.28" fill="#480000"/>
<rect x="389.34" y="213.32" width="8.25" height="8.28" fill="#780000"/>
<rect x="397.60" y="213.32" width="8.25" height="8.28" fill="#400000"/>
<rect x="405.85" y="213.32" width="8.25" height="8.28" fill="#580000"/>
<rect x="414.11" y="213.32" width="8.26" height="8.28" fill="#500000"/>
<rect x="422.36" y="213.32" width="8.25" height="8.28" fill="#400000"/>
<rect x="290.28" y="221.60" width="16.51" height="8.28" fill="#480000"/>
<rect x="306.79" y="221.60" width="8.25" height="8.28" fill="#380000"/>
<rect x="315.05" y="221.60" width="8.25" height="8.28" fill="#b80000"/>
<rect x="323.30" y="221.60" width="8.25" height="8.28" fill="#b00000"/>
<rect x="331.56" y="221.60" width="8.25" height="8.28" fill="#b80000"/>
<rect x="339.81" y="221.60" width="8.25" height="8.28" fill="#c80000"/>
<rect x="348.07" y="221.60" width="8.25" height="8.28" fill="#f80000"/>
<rect x="356.32" y="221.60" width="8.25" height="8.28" fill="#ff0000"/>
<rect x="364.58" y="221.60" width="8.25" height="8.28" fill="#f80000"/>
<rect x="372.83" y="221.60" width="16.51" height="8.28" fill="#e80000"/>
<rect x="389.34" y="221.60" width="16.51" height="8.28" fill="#b00000"/>
<rect x="405.85" y="221.60" width="8.25" height="8.28" fill="#800000"/>
<rect x="414.11" y="221.60" width="8.26" height="8.28" fill="#600000"/>
<rect x="422.36" y="221.60" width="8.25" height="8.28" fill="#480000"/>
<rect x="315.05" y="229.89" width="8.25" height="8.28" fill="#c00000"/>
<rect x="323.30" y="229.89" width="8.25" height="8.28" fill="#a80000"/>
<rect x="331.56" y="229.89" width="8.25" height="8.28" fill="#b00000"/>
<rect x="339.81" y="229.89" width="8.25" height="8.28" fill="#d00000"/>
<rect x="348.07" y="229.89" width="24.76" height="8.28" fill="#ff0000"/>
<rect x="372.83" y="229.89" width="8.25" height="8.28" fill="#f00000"/>
<rect x="381.09" y="229.89" width="8.26" height="8.28" fill="#480000"/>
<rect x="389.34" y="229.89" width="16.51" height="8.28" fill="#b00000"/>
<rect x="405.85" y="229.89" width="8.25" height="8.28" fill="#780000"/>
<rect x="414.11" y="229.89" width="8.26" height="8.28" fill="#700000"/>
<rect x="422.36" y="229.89" width="8.25" height="8.28" fill="#500000"/>
<rect x="430.62" y="229.89" width="8.25" height="8.28" fill="#480000"/>
<rect x="315.05" y="238.17" width="8.25" height="8.28" fill="#c80000"/>
<rect x="323.30" y="238.17" width="16.51" height="8.28" fill="#c00000"/>
<rect x="339.81" y="238.17" width="24.76" height="8.28" fill="#ff0800"/>
<rect x="364.58" y="238.17" width="8.25" height="8.28" fill="#ff0000"/>
<rect x="372.83" y="238.17" width="8.25" height="8.28" fill="#f00000"/>
<rect x="381.09" y="238.17" width="8.26" height="8.28" fill="#480000"/>
<rect x="389.34" y="238.17" width="16.51" height="8.28" fill="#b00000"/>
<rect x="405.85" y="238.17" width="16.51" height="8.28" fill="#780000"/>
<rect x="422.36" y="238.17" width="16.51" height="8.28" fill="#680000"/>
<rect x="298.54" y="246.46" width="8.25" height="3.84" fill="#480000"/>
<rect x="315.05" y="246.46" width="24.76" height="3.84" fill="#c00000"/>
<rect x="339.81" y="246.46" width="8.25" height="3.84" fill="#f00000"/>
<rect x="348.07" y="246.46" width="33.02" height="3.84" fill="#f80000"/>
<rect x="381.09" y="246.46" width="8.26" height="3.84" fill="#a00000"/>
<rect x="389.34" y="246.46" width="16.51" height="3.84" fill="#b00000"/>
<rect x="405.85" y="246.46" width="8.25" height="3.84" fill="#780000"/>
<rect x="414.11" y="246.46" width="24.77" height="3.84" fill="#680000"/>
<rect x="508.90" y="84.60" width="166.30" height="165.70" fill="#330000"/>
<rect x="530.65" y="84.60" width="8.29" height="3.36" fill="#480000"/>
<rect x="538.94" y="84.60" width="8.29" height="3.36" fill="#580000"/>
<rect x="547.23" y="84.60" width="8.29" height="3.36" fill="#a00000"/>
<rect x="555.52" y="84.60" width="8.29" height="3.36" fill="#d00000"/>
<rect x="563.81" y="84.60" width="8.29" height="3.36" fill="#ff0000"/>
<rect x="572.10" y="84.60" width="8.29" height="3.36" fill="#ff4800"/>
<rect x="580.39" y="84.60" width="8.29" height="3.36" fill="#d02800"/>
<rect x="588.68" y="84.60" width="8.29" height="3.36" fill="#ff5000"/>
<rect x="596.97" y="84.60" width="8.29" height="3.36" fill="#ff1000"/>
<rect x="605.26" y="84.60" width="8.29" height="3.36" fill="#900000"/>
<rect x="613.55" y="84.60" width="8.29" height="3.36" fill="#400000"/>
<rect x="621.84" y="84.60" width="8.29" height="3.36" fill="#480000"/>
<rect x="655.00" y="84.60" width="8.29" height="3.36" fill="#480000"/>
<rect x="530.65" y="87.96" width="8.29" height="8.29" fill="#480000"/>
<rect x="538.94" y="87.96" width="8.29" height="8.29" fill="#580000"/>
<rect x="547.23" y="87.96" width="8.29" height="8.29" fill="#a00000"/>
<rect x="555.52" y="87.96" width="8.29" height="8.29" fill="#280000"/>
<rect x="563.81" y="87.96" width="8.29" height="8.29" fill="#e00000"/>
<rect x="572.10" y="87.96" width="8.29" height="8.29" fill="#ff4000"/>
<rect x="580.39" y="87.96" width="8.29" height="8.29" fill="#ff5800"/>
<rect x="588.68" y="87.96" width="8.29" height="8.29" fill="#ff5000"/>
<rect x="596.97" y="87.96" width="8.29" height="8.29" fill="#ff1800"/>
<rect x="605.26" y="87.96" width="8.29" height="8.29" fill="#a00000"/>
<rect x="613.55" y="87.96" width="8.29" height="8.29" fill="#400000"/>
<rect x="621.84" y="87.96" width="8.29" height="8.29" fill="#480000"/>
<rect x="655.00" y="87.96" width="8.29" height="8.29" fill="#480000"/>
<rect x="530.65" y="96.25" width="16.58" height="8.29" fill="#400000"/>
<rect x="547.23" y="96.25" width="8.29" height="8.29" fill="#900000"/>
<rect x="555.52" y="96.25" width="8.29" height="8.29" fill="#c80000"/>
<rect x="563.81" y="96.25" width="8.29" height="8.29" fill="#e80000"/>
<rect x="572.10" y="96.25" width="8.29" height="8.29" fill="#ff4000"/>
<rect x="580.39" y="96.25" width="8.29" height="8.29" fill="#ff6000"/>
<rect x="588.68" y="96.25" width="8.29" height="8.29" fill="#ff5000"/>
<rect x="596.97" y="96.25" width="8.29" height="8.29" fill="#ff1800"/>
<rect x="605.26" y="96.25" width="8.29" height="8.29" fill="#a00000"/>
<rect x="613.55" y="96.25" width="8.29" height="8.29" fill="#400000"/>
<rect x="621.84" y="96.25" width="8.29" height="8.29" fill="#600000"/>
<rect x="530.65" y="104.54" width="8.29" height="8.29" fill="#480000"/>
<rect x="538.94" y="104.54" width="8.29" height="8.29" fill="#380000"/>
<rect x="547.23" y="104.54" width="8.29" height="8.29" fill="#780000"/>
<rect x="555.52" y="104.54" width="8.29" height="8.29" fill="#b00000"/>
<rect x="563.81" y="104.54" width="8.29" height="8.29" fill="#e00000"/>
<rect x="572.10" y="104.54" width="8.29" height="8.29" fill="#ff2800"/>
<rect x="580.39" y="104.54" width="8.29" height="8.29" fill="#ff3800"/>
<rect x="588.68" y="104.54" width="8.29" height="8.29" fill="#ff5000"/>
<rect x="596.97" y="104.54" width="8.29" height="8.29" fill="#ff1800"/>
<rect x="605.26" y="104.54" width="8.29" height="8.29" fill="#b00000"/>
<rect x="613.55" y="104.54" width="8.29" height="8.29" fill="#680000"/>
<rect x="621.84" y="104.54" width="8.29" height="8.29" fill="#400000"/>
<rect x="530.65" y="112.83" width="8.29" height="8.29" fill="#480000"/>
<rect x="538.94" y="112.83" width="24.87" height="8.29" fill="#380000"/>
<rect x="563.81" y="112.83" width="8.29" height="8.29" fill="#d00000"/>
<rect x="572.10" y="112.83" width="8.29" height="8.29" fill="#ff2000"/>
<rect x="580.39" y="112.83" width="8.29" height="8.29" fill="#ff3000"/>
<rect x="588.68" y="112.83" width="8.29" height="8.29" fill="#ff4800"/>
<rect x="596.97" y="112.83" width="8.29" height="8.29" fill="#ff1800"/>
<rect x="605.26" y="112.83" width="8.29" height="8.29" fill="#b00000"/>
<rect x="613.55" y="112.83" width="8.29" height="8.29" fill="#680000"/>
<rect x="621.84" y="112.83" width="8.29" height="8.29" fill="#400000"/>
<rect x="630.13" y="112.83" width="8.29" height="8.29" fill="#480000"/>
<rect x="514.07" y="121.12" width="8.29" height="8.29" fill="#580000"/>
<rect x="530.65" y="121.12" width="8.29" height="8.29" fill="#480000"/>
<rect x="538.94" y="121.12" width="16.58" height="8.29" fill="#400000"/>
<rect x="555.52" y="121.12" width="8.29" height="8.29" fill="#900000"/>
<rect x="563.81" y="121.12" width="8.29" height="8.29" fill="#b00000"/>
<rect x="572.10" y="121.12" width="8.29" height="8.29" fill="#f01000"/>
<rect x="580.39" y="121.12" width="8.29" height="8.29" fill="#ff3000"/>
<rect x="588.68" y="121.12" width="8.29" height="8.29" fill="#ff4000"/>
<rect x="596.97" y="121.12" width="8.29" height="8.29" fill="#ff1800"/>
<rect x="605.26" y="121.12" width="8.29" height="8.29" fill="#b00000"/>
<rect x="613.55" y="121.12" width="8.29" height="8.29" fill="#680000"/>
<rect x="621.84" y="121.12" width="8.29" height="8.29" fill="#400000"/>
<rect x="638.42" y="121.12" width="8.29" height="8.29" fill="#480000"/>
<rect x="530.65" y="129.41" width="24.87" height="8.29" fill="#400000"/>
<rect x="555.52" y="129.41" width="8.29" height="8.29" fill="#900000"/>
<rect x="563.81" y="129.41" width="8.29" height="8.29" fill="#c00000"/>
<rect x="572.10" y="129.41" width="8.29" height="8.29" fill="#ff0800"/>
<rect x="580.39" y="129.41" width="8.29" height="8.29" fill="#ff4000"/>
<rect x="588.68" y="129.41" width="8.29" height="8.29" fill="#ff0000"/>
<rect x="596.97" y="129.41" width="8.29" height="8.29" fill="#ff1800"/>
<rect x="605.26" y="129.41" width="8.29" height="8.29" fill="#c80000"/>
<rect x="613.55" y="129.41" width="8.29" height="8.29" fill="#680000"/>
<rect x="621.84" y="129.41" width="8.29" height="8.29" fill="#500000"/>
<rect x="530.65" y="137.70" width="16.58" height="8.29" fill="#400000"/>
<rect x="547.23" y="137.70" width="8.29" height="8.29" fill="#300000"/>
<rect x="555.52" y="137.70" width="8.29" height="8.29" fill="#500000"/>
<rect x="563.81" y="137.70" width="8.29" height="8.29" fill="#a00000"/>
<rect x="572.10" y="137.70" width="8.29" height="8.29" fill="#ff0000"/>
<rect x="580.39" y="137.70" width="8.29" height="8.29" fill="#ff4000"/>
<rect x="588.68" y="137.70" width="8.29" height="8.29" fill="#ff4800"/>
<rect x="596.97" y="137.70" width="8.29" height="8.29" fill="#ff1800"/>
<rect x="605.26" y="137.70" width="8.29" height="8.29" fill="#d00000"/>
<rect x="613.55" y="137.70" width="8.29" height="8.29" fill="#780000"/>
<rect x="621.84" y="137.70" width="8.29" height="8.29" fill="#600000"/>
<rect x="638.42" y="137.70" width="8.29" height="8.29" fill="#480000"/>
<rect x="530.65" y="145.99" width="24.87" height="8.29" fill="#400000"/>
<rect x="555.52" y="145.99" width="8.29" height="8.29" fill="#780000"/>
<rect x="563.81" y="145.99" width="8.29" height="8.29" fill="#980000"/>
<rect x="572.10" y="145.99" width="8.29" height="8.29" fill="#f00000"/>
<rect x="580.39" y="145.99" width="8.29" height="8.29" fill="#ff3000"/>
<rect x="588.68" y="145.99" width="8.29" height="8.29" fill="#ff5000"/>
<rect x="596.97" y="145.99" width="8.29" height="8.29" fill="#ff1800"/>
<rect x="605.26" y="145.99" width="8.29" height="8.29" fill="#c00000"/>
<rect x="613.55" y="145.99" width="8.29" height="8.29" fill="#800000"/>
<rect x="621.84" y="145.99" width="8.29" height="8.29" fill="#500000"/>
<rect x="638.42" y="145.99" width="8.29" height="8.29" fill="#400000"/>
<rect x="530.65" y="154.28" width="24.87" height="8.29" fill="#400000"/>
<rect x="555.52" y="154.28" width="8.29" height="8.29" fill="#780000"/>
<rect x="563.81" y="154.28" width="8.29" height="8.29" fill="#980000"/>
<rect x="572.10" y="154.28" width="8.29" height="8.29" fill="#e00000"/>
<rect x="580.39" y="154.28" width="8.29" height="8.29" fill="#ff3800"/>
<rect x="588.68" y="154.28" width="8.29" height="8.29" fill="#ff4800"/>
<rect x="596.97" y="154.28" width="8.29" height="8.29" fill="#ff1800"/>
<rect x="605.26" y="154.28" width="8.29" height="8.29" fill="#d00000"/>
<rect x="613.55" y="154.28" width="8.29" height="8.29" fill="#600000"/>
<rect x="621.84" y="154.28" width="8.29" height="8.29" fill="#500000"/>
<rect x="638.42" y="154.28" width="16.58" height="8.29" fill="#480000"/>
<rect x="530.65" y="162.57" width="24.87" height="8.29" fill="#400000"/>
<rect x="555.52" y="162.57" width="8.29" height="8.29" fill="#680000"/>
<rect x="563.81" y="162.57" width="8.29" height="8.29" fill="#900000"/>
<rect x="572.10" y="162.57" width="8.29" height="8.29" fill="#e00000"/>
<rect x="580.39" y="162.57" width="8.29" height="8.29" fill="#ff2800"/>
<rect x="588.68" y="162.57" width="8.29" height="8.29" fill="#ff4800"/>
<rect x="596.97" y="162.57" width="8.29" height="8.29" fill="#ff2000"/>
<rect x="605.26" y="162.57" width="8.29" height="8.29" fill="#d00000"/>
<rect x="613.55" y="162.57" width="8.29" height="8.29" fill="#a00000"/>
<rect x="621.84" y="162.57" width="8.29" height="8.29" fill="#580000"/>
<rect x="630.13" y="162.57" width="8.29" height="8.29" fill="#400000"/>
<rect x="638.42" y="162.57" width="8.29" height="8.29" fill="#480000"/>
<rect x="530.65" y="170.86" width="24.87" height="8.29" fill="#400000"/>
<rect x="555.52" y="170.86" width="8.29" height="8.29" fill="#600000"/>
<rect x="563.81" y="170.86" width="8.29" height="8.29" fill="#800000"/>
<rect x="572.10" y="170.86" width="8.29" height="8.29" fill="#c00000"/>
<rect x="580.39" y="170.86" width="8.29" height="8.29" fill="#ff1800"/>
<rect x="588.68" y="170.86" width="8.29" height="8.29" fill="#ff3800"/>
<rect x="596.97" y="170.86" width="8.29" height="8.29" fill="#ff2000"/>
<rect x="605.26" y="170.86" width="8.29" height="8.29" fill="#d80000"/>
<rect x="613.55" y="170.86" width="8.29" height="8.29" fill="#900000"/>
<rect x="621.84" y="170.86" width="8.29" height="8.29" fill="#700000"/>
<rect x="630.13" y="170.86" width="16.58" height="8.29" fill="#400000"/>
<rect x="646.71" y="170.86" width="8.29" height="8.29" fill="#480000"/>
<rect x="538.94" y="179.15" width="16.58" height="8.29" fill="#400000"/>
<rect x="555.52" y="179.15" width="8.29" height="8.29" fill="#500000"/>
<rect x="563.81" y="179.15" width="8.29" height="8.29" fill="#880000"/>
<rect x="572.10" y="179.15" width="8.29" height="8.29" fill="#b80000"/>
<rect x="580.39" y="179.15" width="8.29" height="8.29" fill="#ff1000"/>
<rect x="588.68" y="179.15" width="8.29" height="8.29" fill="#ff3800"/>
<rect x="596.97" y="179.15" width="8.29" height="8.29" fill="#ff2800"/>
<rect x="605.26" y="179.15" width="8.29" height="8.29" fill="#e80000"/>
<rect x="613.55" y="179.15" width="8.29" height="8.29" fill="#900000"/>
<rect x="621.84" y="179.15" width="8.29" height="8.29" fill="#500000"/>
<rect x="630.13" y="179.15" width="8.29" height="8.29" fill="#400000"/>
<rect x="638.42" y="179.15" width="8.29" height="8.29" fill="#500000"/>
<rect x="538.94" y="187.44" width="8.29" height="8.29" fill="#580000"/>
<rect x="547.23" y="187.44" width="16.58" height="8.29" fill="#400000"/>
<rect x="563.81" y="187.44" width="8.29" height="8.29" fill="#780000"/>
<rect x="572.10" y="187.44" width="8.29" height="8.29" fill="#b00000"/>
<rect x="580.39" y="187.44" width="8.29" height="8.29" fill="#ff0800"/>
<rect x="588.68" y="187.44" width="8.29" height="8.29" fill="#ff3800"/>
<rect x="596.97" y="187.44" width="8.29" height="8.29" fill="#ff3000"/>
<rect x="605.26" y="187.44" width="8.29" height="8.29" fill="#f00000"/>
<rect x="613.55" y="187.44" width="8.29" height="8.29" fill="#900000"/>
<rect x="621.84" y="187.44" width="8.29" height="8.29" fill="#580000"/>
<rect x="630.13" y="187.44" width="8.29" height="8.29" fill="#480000"/>
<rect x="638.42" y="187.44" width="8.29" height="8.29" fill="#380000"/>
<rect x="646.71" y="187.44" width="16.58" height="8.29" fill="#580000"/>
<rect x="538.94" y="195.73" width="24.87" height="8.29" fill="#400000"/>
<rect x="563.81" y="195.73" width="8.29" height="8.29" fill="#680000"/>
<rect x="572.10" y="195.73" width="8.29" height="8.29" fill="#b00000"/>
<rect x="580.39" y="195.73" width="8.29" height="8.29" fill="#ff0800"/>
<rect x="588.68" y="195.73" width="8.29" height="8.29" fill="#ff3800"/>
<rect x="596.97" y="195.73" width="8.29" height="8.29" fill="#ff3000"/>
<rect x="605.26" y="195.73" width="8.29" height="8.29" fill="#f80000"/>
<rect x="613.55" y="195.73" width="8.29" height="8.29" fill="#a80000"/>
<rect x="621.84" y="195.73" width="8.29" height="8.29" fill="#500000"/>
<rect x="630.13" y="195.73" width="8.29" height="8.29" fill="#380000"/>
<rect x="638.42" y="195.73" width="8.29" height="8.29" fill="#500000"/>
<rect x="646.71" y="195.73" width="8.29" height="8.29" fill="#480000"/>
<rect x="538.94" y="204.02" width="8.29" height="8.29" fill="#400000"/>
<rect x="547.23" y="204.02" width="8.29" height="8.29" fill="#500000"/>
<rect x="555.52" y="204.02" width="8.29" height="8.29" fill="#300000"/>
<rect x="563.81" y="204.02" width="8.29" height="8.29" fill="#600000"/>
<rect x="572.10" y="204.02" width="8.29" height="8.29" fill="#a80000"/>
<rect x="580.39" y="204.02" width="8.29" height="8.29" fill="#f00000"/>
<rect x="588.68" y="204.02" width="16.58" height="8.29" fill="#ff3000"/>
<rect x="605.26" y="204.02" width="8.29" height="8.29" fill="#ff0800"/>
<rect x="613.55" y="204.02" width="8.29" height="8.29" fill="#980000"/>
<rect x="621.84" y="204.02" width="8.29" height="8.29" fill="#580000"/>
<rect x="630.13" y="204.02" width="8.29" height="8.29" fill="#400000"/>
<rect x="538.94" y="212.31" width="16.58" height="8.29" fill="#400000"/>
<rect x="555.52" y="212.31" width="8.29" height="8.29" fill="#300000"/>
<rect x="563.81" y="212.31" width="8.29" height="8.29" fill="#580000"/>
<rect x="572.10" y="212.31" width="8.29" height="8.29" fill="#a00000"/>
<rect x="580.39" y="212.31" width="8.29" height="8.29" fill="#e80000"/>
<rect x="588.68" y="212.31" width="8.29" height="8.29" fill="#ff2800"/>
<rect x="596.97" y="212.31" width="8.29" height="8.29" fill="#ff3000"/>
<rect x="605.26" y="212.31" width="8.29" height="8.29" fill="#ff1000"/>
<rect x="613.55" y="212.31" width="8.29" height="8.29" fill="#a00000"/>
<rect x="621.84" y="212.31" width="8.29" height="8.29" fill="#580000"/>
<rect x="630.13" y="212.31" width="8.29" height="8.29" fill="#400000"/>
<rect x="538.94" y="220.60" width="24.87" height="8.29" fill="#400000"/>
<rect x="563.81" y="220.60" width="8.29" height="8.29" fill="#500000"/>
<rect x="572.10" y="220.60" width="8.29" height="8.29" fill="#900000"/>
<rect x="580.39" y="220.60" width="8.29" height="8.29" fill="#d00000"/>
<rect x="588.68" y="220.60" width="8.29" height="8.29" fill="#ff2000"/>
<rect x="596.97" y="220.60" width="8.29" height="8.29" fill="#ff2800"/>
<rect x="605.26" y="220.60" width="8.29" height="8.29" fill="#ff1000"/>
<rect x="613.55" y="220.60" width="8.29" height="8.29" fill="#a00000"/>
<rect x="621.84" y="220.60" width="8.29" height="8.29" fill="#580000"/>
<rect x="538.94" y="228.89" width="8.29" height="8.29" fill="#400000"/>
<rect x="547.23" y="228.89" width="8.29" height="8.29" fill="#300000"/>
<rect x="555.52" y="228.89" width="8.29" height="8.29" fill="#580000"/>
<rect x="563.81" y="228.89" width="8.29" height="8.29" fill="#480000"/>
<rect x="572.10" y="228.89" width="8.29" height="8.29" fill="#800000"/>
<rect x="580.39" y="228.89" width="8.29" height="8.29" fill="#c80000"/>
<rect x="588.68" y="228.89" width="8.29" height="8.29" fill="#ff1800"/>
<rect x="596.97" y="228.89" width="8.29" height="8.29" fill="#ff3000"/>
<rect x="605.26" y="228.89" width="8.29" height="8.29" fill="#ff1000"/>
<rect x="613.55" y="228.89" width="8.29" height="8.29" fill="#a00000"/>
<rect x="621.84" y="228.89" width="8.29" height="8.29" fill="#480000"/>
<rect x="630.13" y="228.89" width="8.29" height="8.29" fill="#500000"/>
<rect x="538.94" y="237.18" width="16.58" height="8.29" fill="#400000"/>
<rect x="555.52" y="237.18" width="8.29" height="8.29" fill="#580000"/>
<rect x="563.81" y="237.18" width="8.29" height="8.29" fill="#480000"/>
<rect x="572.10" y="237.18" width="8.29" height="8.29" fill="#700000"/>
<rect x="580.39" y="237.18" width="8.29" height="8.29" fill="#a00000"/>
<rect x="588.68" y="237.18" width="8.29" height="8.29" fill="#ff1000"/>
<rect x="596.97" y="237.18" width="8.29" height="8.29" fill="#ff5800"/>
<rect x="605.26" y="237.18" width="8.29" height="8.29" fill="#ff1000"/>
<rect x="613.55" y="237.18" width="8.29" height="8.29" fill="#b00000"/>
<rect x="621.84" y="237.18" width="16.58" height="8.29" fill="#400000"/>
<rect x="646.71" y="237.18" width="8.29" height="8.29" fill="#580000"/>
<rect x="538.94" y="245.47" width="16.58" height="4.83" fill="#400000"/>
<rect x="555.52" y="245.47" width="8.29" height="4.83" fill="#580000"/>
<rect x="563.81" y="245.47" width="8.29" height="4.83" fill="#480000"/>
<rect x="572.10" y="245.47" width="8.29" height="4.83" fill="#700000"/>
<rect x="580.39" y="245.47" width="8.29" height="4.83" fill="#a00000"/>
<rect x="588.68" y="245.47" width="8.29" height="4.83" fill="#ff1000"/>
<rect x="596.97" y="245.47" width="8.29" height="4.83" fill="#ff6000"/>
<rect x="605.26" y="245.47" width="8.29" height="4.83" fill="#ff1000"/>
<rect x="613.55" y="245.47" width="8.29" height="4.83" fill="#b00000"/>
<rect x="621.84" y="245.47" width="16.58" height="4.83" fill="#400000"/>
<rect x="646.71" y="245.47" width="8.29" height="4.83" fill="#580000"/>
<rect x="45.10" y="377.70" width="164.90" height="165.70" fill="#808080"/>
<rect x="115.79" y="381.28" width="8.19" height="8.32" fill="#e00000"/>
<rect x="99.41" y="389.60" width="8.19" height="8.32" fill="#c00000"/>
<rect x="66.64" y="397.92" width="8.19" height="8.32" fill="#a00000"/>
<rect x="148.56" y="397.92" width="8.19" height="8.32" fill="#b00000"/>
<rect x="132.18" y="406.23" width="8.19" height="8.32" fill="#ff1010"/>
<rect x="115.79" y="414.55" width="8.19" height="8.32" fill="#ff6010"/>
<rect x="123.99" y="414.55" width="8.19" height="8.32" fill="#ff4000"/>
<rect x="164.95" y="414.55" width="8.19" height="8.32" fill="#400000"/>
<rect x="132.18" y="431.19" width="8.19" height="8.32" fill="#500000"/>
<rect x="83.03" y="439.51" width="8.19" height="8.32" fill="#a00000"/>
<rect x="99.41" y="439.51" width="8.19" height="8.32" fill="#500000"/>
<rect x="123.99" y="439.51" width="8.19" height="8.32" fill="#a00000"/>
<rect x="148.56" y="439.51" width="8.19" height="8.32" fill="#500000"/>
<rect x="58.45" y="447.82" width="8.19" height="8.32" fill="#900000"/>
<rect x="74.84" y="447.82" width="8.19" height="8.32" fill="#400000"/>
<rect x="91.22" y="447.82" width="8.19" height="8.32" fill="#500000"/>
<rect x="107.60" y="447.82" width="8.19" height="8.32" fill="#900000"/>
<rect x="156.75" y="447.82" width="8.19" height="8.32" fill="#600000"/>
<rect x="123.99" y="456.14" width="8.19" height="8.32" fill="#ff0000"/>
<rect x="99.41" y="464.46" width="8.19" height="8.32" fill="#600000"/>
<rect x="107.60" y="464.46" width="8.19" height="8.32" fill="#e00000"/>
<rect x="99.41" y="472.78" width="8.19" height="8.32" fill="#700000"/>
<rect x="123.99" y="472.78" width="8.19" height="8.32" fill="#c00000"/>
<rect x="132.18" y="472.78" width="8.19" height="8.32" fill="#900000"/>
<rect x="140.37" y="472.78" width="8.19" height="8.32" fill="#400000"/>
<rect x="164.95" y="472.78" width="8.19" height="8.32" fill="#500000"/>
<rect x="91.22" y="481.10" width="8.19" height="8.32" fill="#500000"/>
<rect x="107.60" y="481.10" width="8.19" height="8.32" fill="#900000"/>
<rect x="115.79" y="481.10" width="8.19" height="8.32" fill="#ff0000"/>
<rect x="123.99" y="481.10" width="8.19" height="8.32" fill="#900000"/>
<rect x="132.18" y="481.10" width="8.19" height="8.32" fill="#600000"/>
<rect x="148.56" y="481.10" width="8.19" height="8.32" fill="#500000"/>
<rect x="66.64" y="489.41" width="8.19" height="8.32" fill="#500000"/>
<rect x="91.22" y="489.41" width="8.19" height="8.32" fill="#500000"/>
<rect x="99.41" y="489.41" width="8.19" height="8.32" fill="#600000"/>
<rect x="115.79" y="489.41" width="8.19" height="8.32" fill="#900000"/>
<rect x="132.18" y="489.41" width="8.19" height="8.32" fill="#600000"/>
<rect x="140.37" y="489.41" width="8.19" height="8.32" fill="#400000"/>
<rect x="83.03" y="497.73" width="16.38" height="8.32" fill="#400000"/>
<rect x="99.41" y="497.73" width="16.38" height="8.32" fill="#500000"/>
<rect x="115.79" y="497.73" width="8.19" height="8.32" fill="#400000"/>
<rect x="123.99" y="497.73" width="8.19" height="8.32" fill="#700000"/>
<rect x="140.37" y="497.73" width="8.19" height="8.32" fill="#400000"/>
<rect x="148.56" y="497.73" width="8.19" height="8.32" fill="#500000"/>
<rect x="197.71" y="497.73" width="8.19" height="8.32" fill="#ff5000"/>
<rect x="83.03" y="506.05" width="8.19" height="8.32" fill="#a00000"/>
<rect x="99.41" y="506.05" width="8.19" height="8.32" fill="#400000"/>
<rect x="107.60" y="506.05" width="24.58" height="8.32" fill="#800000"/>
<rect x="132.18" y="506.05" width="8.19" height="8.32" fill="#700000"/>
<rect x="140.37" y="506.05" width="8.19" height="8.32" fill="#600000"/>
<rect x="66.64" y="514.37" width="8.19" height="8.32" fill="#d80808"/>
<rect x="91.22" y="514.37" width="8.19" height="8.32" fill="#b00000"/>
<rect x="99.41" y="514.37" width="8.19" height="8.32" fill="#b80000"/>
<rect x="107.60" y="514.37" width="8.19" height="8.32" fill="#d00000"/>
<rect x="115.79" y="514.37" width="8.19" height="8.32" fill="#b00000"/>
<rect x="123.99" y="514.37" width="16.38" height="8.32" fill="#e00000"/>
<rect x="140.37" y="514.37" width="8.19" height="8.32" fill="#900000"/>
<rect x="181.33" y="514.37" width="8.19" height="8.32" fill="#ff2000"/>
<rect x="74.84" y="522.69" width="8.19" height="8.32" fill="#ff2000"/>
<rect x="99.41" y="522.69" width="8.19" height="8.32" fill="#c00000"/>
<rect x="107.60" y="522.69" width="8.19" height="8.32" fill="#ff5000"/>
<rect x="115.79" y="522.69" width="8.19" height="8.32" fill="#ff4800"/>
<rect x="123.99" y="522.69" width="8.19" height="8.32" fill="#ff6000"/>
<rect x="132.18" y="522.69" width="8.19" height="8.32" fill="#ff7000"/>
<rect x="140.37" y="522.69" width="8.19" height="8.32" fill="#ff2000"/>
<rect x="164.95" y="522.69" width="8.19" height="8.32" fill="#ffc020"/>
<rect x="91.22" y="531.01" width="8.19" height="8.32" fill="#ffb000"/>
<rect x="99.41" y="531.01" width="8.19" height="8.32" fill="#ffa000"/>
<rect x="107.60" y="531.01" width="16.38" height="8.32" fill="#ffff00"/>
<rect x="123.99" y="531.01" width="16.38" height="8.32" fill="#ffff20"/>
<rect x="148.56" y="531.01" width="16.38" height="8.32" fill="#ffe010"/>
<rect x="277.30" y="377.70" width="165.10" height="165.70" fill="#808080"/>
<rect x="348.08" y="379.57" width="8.20" height="8.42" fill="#ff6000"/>
<rect x="331.68" y="387.99" width="8.20" height="8.42" fill="#ff3000"/>
<rect x="298.87" y="396.41" width="8.20" height="8.42" fill="#c00000"/>
<rect x="380.89" y="396.41" width="8.20" height="8.42" fill="#e00000"/>
<rect x="364.48" y="404.84" width="8.20" height="8.42" fill="#ffb020"/>
<rect x="348.08" y="413.26" width="8.20" height="8.42" fill="#ff2000"/>
<rect x="356.28" y="413.26" width="8.20" height="8.42" fill="#ff3000"/>
<rect x="397.29" y="413.26" width="8.20" height="8.42" fill="#ff2000"/>
<rect x="364.48" y="430.11" width="8.20" height="8.42" fill="#a00000"/>
<rect x="315.27" y="438.54" width="8.20" height="8.42" fill="#ff0000"/>
<rect x="331.68" y="438.54" width="8.20" height="8.42" fill="#d00000"/>
<rect x="356.28" y="438.54" width="8.20" height="8.42" fill="#e00000"/>
<rect x="380.89" y="438.54" width="8.20" height="8.42" fill="#a00000"/>
<rect x="290.67" y="446.96" width="8.20" height="8.42" fill="#900000"/>
<rect x="307.07" y="446.96" width="8.20" height="8.42" fill="#600000"/>
<rect x="323.48" y="446.96" width="8.20" height="8.42" fill="#800000"/>
<rect x="339.88" y="446.96" width="8.20" height="8.42" fill="#ff4000"/>
<rect x="389.09" y="446.96" width="8.20" height="8.42" fill="#ff3000"/>
<rect x="356.28" y="455.38" width="8.20" height="8.42" fill="#ffb000"/>
<rect x="331.68" y="463.81" width="8.20" height="8.42" fill="#ff6000"/>
<rect x="339.88" y="463.81" width="8.20" height="8.42" fill="#ff9000"/>
<rect x="331.68" y="472.23" width="8.20" height="8.42" fill="#ff1000"/>
<rect x="356.28" y="472.23" width="8.20" height="8.42" fill="#ff8000"/>
<rect x="364.48" y="472.23" width="16.40" height="8.42" fill="#ff1000"/>
<rect x="397.29" y="472.23" width="8.20" height="8.42" fill="#d00000"/>
<rect x="323.48" y="480.66" width="8.20" height="8.42" fill="#ff1000"/>
<rect x="339.88" y="480.66" width="8.20" height="8.42" fill="#ff5000"/>
<rect x="348.08" y="480.66" width="8.20" height="8.42" fill="#ff8000"/>
<rect x="356.28" y="480.66" width="8.20" height="8.42" fill="#ff3000"/>
<rect x="364.48" y="480.66" width="8.20" height="8.42" fill="#ff0000"/>
<rect x="380.89" y="480.66" width="8.20" height="8.42" fill="#e00000"/>
<rect x="298.87" y="489.08" width="8.20" height="8.42" fill="#ff0000"/>
<rect x="323.48" y="489.08" width="8.20" height="8.42" fill="#ff0000"/>
<rect x="331.68" y="489.08" width="8.20" height="8.42" fill="#ff4000"/>
<rect x="348.08" y="489.08" width="8.20" height="8.42" fill="#ff2000"/>
<rect x="364.48" y="489.08" width="8.20" height="8.42" fill="#ff0000"/>
<rect x="372.69" y="489.08" width="8.20" height="8.42" fill="#b00000"/>
<rect x="315.27" y="497.50" width="8.20" height="8.42" fill="#c00000"/>
<rect x="323.48" y="497.50" width="8.20" height="8.42" fill="#500000"/>
<rect x="331.68" y="497.50" width="8.20" height="8.42" fill="#ff0000"/>
<rect x="339.88" y="497.50" width="8.20" height="8.42" fill="#c00000"/>
<rect x="348.08" y="497.50" width="8.20" height="8.42" fill="#e00000"/>
<rect x="356.28" y="497.50" width="8.20" height="8.42" fill="#ff0000"/>
<rect x="372.69" y="497.50" width="8.20" height="8.42" fill="#900000"/>
<rect x="380.89" y="497.50" width="8.20" height="8.42" fill="#a00000"/>
<rect x="430.10" y="497.50" width="8.20" height="8.42" fill="#900000"/>
<rect x="315.27" y="505.93" width="8.20" height="8.42" fill="#e00000"/>
<rect x="331.68" y="505.93" width="8.20" height="8.42" fill="#700000"/>
<rect x="339.88" y="505.93" width="24.61" height="8.42" fill="#ff0000"/>
<rect x="364.48" y="505.93" width="8.20" height="8.42" fill="#e00000"/>
<rect x="372.69" y="505.93" width="8.20" height="8.42" fill="#e80000"/>
<rect x="298.87" y="514.35" width="8.20" height="8.42" fill="#a00000"/>
<rect x="323.48" y="514.35" width="8.20" height="8.42" fill="#e00000"/>
<rect x="331.68" y="514.35" width="49.21" height="8.42" fill="#ff0000"/>
<rect x="413.69" y="514.35" width="8.20" height="8.42" fill="#ff1010"/>
<rect x="307.07" y="522.78" width="8.20" height="8.42" fill="#c00000"/>
<rect x="331.68" y="522.78" width="8.20" height="8.42" fill="#ff0000"/>
<rect x="339.88" y="522.78" width="8.20" height="8.42" fill="#f80000"/>
<rect x="348.08" y="522.78" width="8.20" height="8.42" fill="#ff8000"/>
<rect x="356.28" y="522.78" width="8.20" height="8.42" fill="#ff9000"/>
<rect x="364.48" y="522.78" width="8.20" height="8.42" fill="#ff0000"/>
<rect x="372.69" y="522.78" width="8.20" height="8.42" fill="#ff3000"/>
<rect x="397.29" y="522.78" width="8.20" height="8.42" fill="#ffc020"/>
<rect x="323.48" y="531.20" width="8.20" height="8.42" fill="#ff8000"/>
<rect x="331.68" y="531.20" width="16.40" height="8.42" fill="#ff2000"/>
<rect x="348.08" y="531.20" width="8.20" height="8.42" fill="#ffffc0"/>
<rect x="356.28" y="531.20" width="8.20" height="8.42" fill="#fffff0"/>
<rect x="364.48" y="531.20" width="8.20" height="8.42" fill="#ff6000"/>
<rect x="380.89" y="531.20" width="8.20" height="8.42" fill="#ff7000"/>
<rect x="389.09" y="531.20" width="8.20" height="8.42" fill="#ffd010"/>
<rect x="509.80" y="377.70" width="165.40" height="165.70" fill="#808080"/>
<rect x="578.03" y="380.40" width="8.36" height="8.38" fill="#ffffff"/>
<rect x="561.30" y="388.79" width="8.36" height="8.38" fill="#ffd020"/>
<rect x="527.85" y="397.17" width="8.36" height="8.38" fill="#500000"/>
<rect x="611.47" y="397.17" width="8.36" height="8.38" fill="#400000"/>
<rect x="594.75" y="405.55" width="8.36" height="8.38" fill="#ff3000"/>
<rect x="578.03" y="413.94" width="8.36" height="8.38" fill="#ffff90"/>
<rect x="586.39" y="413.94" width="8.36" height="8.38" fill="#ffe020"/>
<rect x="628.20" y="413.94" width="8.36" height="8.38" fill="#600000"/>
<rect x="594.75" y="430.71" width="8.36" height="8.38" fill="#ff1010"/>
<rect x="544.58" y="439.09" width="8.36" height="8.38" fill="#900000"/>
<rect x="561.30" y="439.09" width="8.36" height="8.38" fill="#a00000"/>
<rect x="586.39" y="439.09" width="8.36" height="8.38" fill="#ffe820"/>
<rect x="611.47" y="439.09" width="8.36" height="8.38" fill="#c00000"/>
<rect x="519.49" y="447.48" width="8.36" height="8.38" fill="#400000"/>
<rect x="536.22" y="447.48" width="8.36" height="8.38" fill="#800000"/>
<rect x="552.94" y="447.48" width="8.36" height="8.38" fill="#f00000"/>
<rect x="569.66" y="447.48" width="8.36" height="8.38" fill="#fff020"/>
<rect x="619.84" y="447.48" width="8.36" height="8.38" fill="#900000"/>
<rect x="586.39" y="455.86" width="8.36" height="8.38" fill="#fffff0"/>
<rect x="561.30" y="464.25" width="8.36" height="8.38" fill="#c00000"/>
<rect x="569.66" y="464.25" width="8.36" height="8.38" fill="#fffff0"/>
<rect x="561.30" y="472.63" width="8.36" height="8.38" fill="#ff5000"/>
<rect x="586.39" y="472.63" width="8.36" height="8.38" fill="#ffd000"/>
<rect x="594.75" y="472.63" width="8.36" height="8.38" fill="#ff9800"/>
<rect x="603.11" y="472.63" width="8.36" height="8.38" fill="#400000"/>
<rect x="628.20" y="472.63" width="8.36" height="8.38" fill="#400000"/>
<rect x="552.94" y="481.01" width="8.36" height="8.38" fill="#ff4000"/>
<rect x="569.66" y="481.01" width="8.36" height="8.38" fill="#fff000"/>
<rect x="578.03" y="481.01" width="8.36" height="8.38" fill="#ffffff"/>
<rect x="586.39" y="481.01" width="8.36" height="8.38" fill="#ffc800"/>
<rect x="594.75" y="481.01" width="8.36" height="8.38" fill="#ffa000"/>
<rect x="611.47" y="481.01" width="8.36" height="8.38" fill="#c00000"/>
<rect x="527.85" y="489.40" width="8.36" height="8.38" fill="#400000"/>
<rect x="552.94" y="489.40" width="8.36" height="8.38" fill="#e00000"/>
<rect x="561.30" y="489.40" width="8.36" height="8.38" fill="#c00000"/>
<rect x="578.03" y="489.40" width="8.36" height="8.38" fill="#ffffff"/>
<rect x="594.75" y="489.40" width="8.36" height="8.38" fill="#ffb000"/>
<rect x="603.11" y="489.40" width="8.36" height="8.38" fill="#a00000"/>
<rect x="544.58" y="497.78" width="8.36" height="8.38" fill="#400000"/>
<rect x="552.94" y="497.78" width="8.36" height="8.38" fill="#f00000"/>
<rect x="561.30" y="497.78" width="8.36" height="8.38" fill="#ff3000"/>
<rect x="569.66" y="497.78" width="8.36" height="8.38" fill="#ff8000"/>
<rect x="578.03" y="497.78" width="8.36" height="8.38" fill="#ffffff"/>
<rect x="586.39" y="497.78" width="8.36" height="8.38" fill="#ffffa0"/>
<rect x="603.11" y="497.78" width="8.36" height="8.38" fill="#a00000"/>
<rect x="611.47" y="497.78" width="8.36" height="8.38" fill="#500000"/>
<rect x="661.65" y="497.78" width="8.36" height="8.38" fill="#d00000"/>
<rect x="544.58" y="506.17" width="8.36" height="8.38" fill="#ff3000"/>
<rect x="561.30" y="506.17" width="8.36" height="8.38" fill="#c00000"/>
<rect x="569.66" y="506.17" width="8.36" height="8.38" fill="#ff9000"/>
<rect x="578.03" y="506.17" width="8.36" height="8.38" fill="#ffffd0"/>
<rect x="586.39" y="506.17" width="8.36" height="8.38" fill="#ffff90"/>
<rect x="594.75" y="506.17" width="8.36" height="8.38" fill="#e00000"/>
<rect x="603.11" y="506.17" width="8.36" height="8.38" fill="#900000"/>
<rect x="527.85" y="514.55" width="8.36" height="8.38" fill="#400000"/>
<rect x="552.94" y="514.55" width="8.36" height="8.38" fill="#d00000"/>
<rect x="561.30" y="514.55" width="8.36" height="8.38" fill="#ff0000"/>
<rect x="569.66" y="514.55" width="8.36" height="8.38" fill="#ff9000"/>
<rect x="578.03" y="514.55" width="8.36" height="8.38" fill="#fffff0"/>
<rect x="586.39" y="514.55" width="8.36" height="8.38" fill="#ffff90"/>
<rect x="594.75" y="514.55" width="8.36" height="8.38" fill="#ff8000"/>
<rect x="603.11" y="514.55" width="8.36" height="8.38" fill="#600000"/>
<rect x="644.92" y="514.55" width="8.36" height="8.38" fill="#400000"/>
<rect x="536.22" y="522.94" width="8.36" height="8.38" fill="#600000"/>
<rect x="561.30" y="522.94" width="8.36" height="8.38" fill="#a00000"/>
<rect x="569.66" y="522.94" width="8.36" height="8.38" fill="#ff9000"/>
<rect x="578.03" y="522.94" width="8.36" height="8.38" fill="#ffffd0"/>
<rect x="586.39" y="522.94" width="8.36" height="8.38" fill="#ffff80"/>
<rect x="594.75" y="522.94" width="8.36" height="8.38" fill="#ff7000"/>
<rect x="603.11" y="522.94" width="8.36" height="8.38" fill="#900000"/>
<rect x="628.20" y="522.94" width="8.36" height="8.38" fill="#700000"/>
<rect x="552.94" y="531.32" width="8.36" height="8.38" fill="#600000"/>
<rect x="561.30" y="531.32" width="8.36" height="8.38" fill="#ff2000"/>
<rect x="569.66" y="531.32" width="8.36" height="8.38" fill="#ff9000"/>
<rect x="578.03" y="531.32" width="8.36" height="8.38" fill="#fffff0"/>
<rect x="586.39" y="531.32" width="8.36" height="8.38" fill="#ffffc0"/>
<rect x="594.75" y="531.32" width="8.36" height="8.38" fill="#ffa000"/>
<rect x="611.47" y="531.32" width="8.36" height="8.38" fill="#900000"/>
<rect x="619.84" y="531.32" width="8.36" height="8.38" fill="#400000"/>
</g>
<text x="0.00" y="0.00" font-size="18.8" text-anchor="start" font-weight="bold" font-family="Liberation Sans, Arial, Helvetica, sans-serif" fill="#000" transform="translate(22.20 14.50) scale(0.915 1)">(a)</text>
<rect x="44.60" y="59.70" width="165.60" height="12.50" fill="url(#hot)"/>
<rect x="44.60" y="59.70" width="165.60" height="12.50" fill="none" stroke="#000" stroke-width="1.45"/>
<line x1="44.60" y1="59.70" x2="44.60" y2="53.80" stroke="#000" stroke-width="1.45"/>
<text x="44.60" y="48.50" font-size="10.7" text-anchor="middle" font-family="Liberation Sans, Arial, Helvetica, sans-serif" fill="#000">0</text>
<line x1="77.72" y1="59.70" x2="77.72" y2="53.80" stroke="#000" stroke-width="1.45"/>
<text x="77.72" y="48.50" font-size="10.7" text-anchor="middle" font-family="Liberation Sans, Arial, Helvetica, sans-serif" fill="#000">20</text>
<line x1="110.84" y1="59.70" x2="110.84" y2="53.80" stroke="#000" stroke-width="1.45"/>
<text x="110.84" y="48.50" font-size="10.7" text-anchor="middle" font-family="Liberation Sans, Arial, Helvetica, sans-serif" fill="#000">40</text>
<line x1="143.96" y1="59.70" x2="143.96" y2="53.80" stroke="#000" stroke-width="1.45"/>
<text x="143.96" y="48.50" font-size="10.7" text-anchor="middle" font-family="Liberation Sans, Arial, Helvetica, sans-serif" fill="#000">60</text>
<line x1="177.08" y1="59.70" x2="177.08" y2="53.80" stroke="#000" stroke-width="1.45"/>
<text x="177.08" y="48.50" font-size="10.7" text-anchor="middle" font-family="Liberation Sans, Arial, Helvetica, sans-serif" fill="#000">80</text>
<line x1="210.20" y1="59.70" x2="210.20" y2="53.80" stroke="#000" stroke-width="1.45"/>
<text x="210.20" y="48.50" font-size="10.7" text-anchor="middle" font-family="Liberation Sans, Arial, Helvetica, sans-serif" fill="#000">100</text>
<text x="129.25" y="32.90" font-size="12.95" text-anchor="middle" font-family="Liberation Sans, Arial, Helvetica, sans-serif" fill="#000">Error (%)</text>
<rect x="45.10" y="84.60" width="164.90" height="165.70" fill="none" stroke="#000" stroke-width="1.45"/>
<line x1="45.10" y1="250.30" x2="45.10" y2="259.70" stroke="#000" stroke-width="1.45"/>
<text x="45.10" y="271.30" font-size="10.7" text-anchor="middle" font-family="Liberation Sans, Arial, Helvetica, sans-serif" fill="#000">-200</text>
<line x1="86.33" y1="250.30" x2="86.33" y2="259.70" stroke="#000" stroke-width="1.45"/>
<text x="86.33" y="271.30" font-size="10.7" text-anchor="middle" font-family="Liberation Sans, Arial, Helvetica, sans-serif" fill="#000">-100</text>
<line x1="127.55" y1="250.30" x2="127.55" y2="259.70" stroke="#000" stroke-width="1.45"/>
<text x="127.55" y="271.30" font-size="10.7" text-anchor="middle" font-family="Liberation Sans, Arial, Helvetica, sans-serif" fill="#000">0</text>
<line x1="168.78" y1="250.30" x2="168.78" y2="259.70" stroke="#000" stroke-width="1.45"/>
<text x="168.78" y="271.30" font-size="10.7" text-anchor="middle" font-family="Liberation Sans, Arial, Helvetica, sans-serif" fill="#000">100</text>
<line x1="210.00" y1="250.30" x2="210.00" y2="259.70" stroke="#000" stroke-width="1.45"/>
<text x="210.00" y="271.30" font-size="10.7" text-anchor="middle" font-family="Liberation Sans, Arial, Helvetica, sans-serif" fill="#000">200</text>
<line x1="65.71" y1="250.30" x2="65.71" y2="255.00" stroke="#000" stroke-width="1.45"/>
<line x1="106.94" y1="250.30" x2="106.94" y2="255.00" stroke="#000" stroke-width="1.45"/>
<line x1="148.16" y1="250.30" x2="148.16" y2="255.00" stroke="#000" stroke-width="1.45"/>
<line x1="189.39" y1="250.30" x2="189.39" y2="255.00" stroke="#000" stroke-width="1.45"/>
<line x1="45.10" y1="250.30" x2="35.70" y2="250.30" stroke="#000" stroke-width="1.45"/>
<text x="33.30" y="254.10" font-size="10.7" text-anchor="end" font-family="Liberation Sans, Arial, Helvetica, sans-serif" fill="#000">0</text>
<line x1="45.10" y1="217.16" x2="35.70" y2="217.16" stroke="#000" stroke-width="1.45"/>
<text x="33.30" y="220.96" font-size="10.7" text-anchor="end" font-family="Liberation Sans, Arial, Helvetica, sans-serif" fill="#000">40</text>
<line x1="45.10" y1="184.02" x2="35.70" y2="184.02" stroke="#000" stroke-width="1.45"/>
<text x="33.30" y="187.82" font-size="10.7" text-anchor="end" font-family="Liberation Sans, Arial, Helvetica, sans-serif" fill="#000">80</text>
<line x1="45.10" y1="150.88" x2="35.70" y2="150.88" stroke="#000" stroke-width="1.45"/>
<text x="33.30" y="154.68" font-size="10.7" text-anchor="end" font-family="Liberation Sans, Arial, Helvetica, sans-serif" fill="#000">120</text>
<line x1="45.10" y1="117.74" x2="35.70" y2="117.74" stroke="#000" stroke-width="1.45"/>
<text x="33.30" y="121.54" font-size="10.7" text-anchor="end" font-family="Liberation Sans, Arial, Helvetica, sans-serif" fill="#000">160</text>
<line x1="45.10" y1="84.60" x2="35.70" y2="84.60" stroke="#000" stroke-width="1.45"/>
<text x="33.30" y="88.40" font-size="10.7" text-anchor="end" font-family="Liberation Sans, Arial, Helvetica, sans-serif" fill="#000">200</text>
<line x1="45.10" y1="233.73" x2="40.40" y2="233.73" stroke="#000" stroke-width="1.45"/>
<line x1="45.10" y1="200.59" x2="40.40" y2="200.59" stroke="#000" stroke-width="1.45"/>
<line x1="45.10" y1="167.45" x2="40.40" y2="167.45" stroke="#000" stroke-width="1.45"/>
<line x1="45.10" y1="134.31" x2="40.40" y2="134.31" stroke="#000" stroke-width="1.45"/>
<line x1="45.10" y1="101.17" x2="40.40" y2="101.17" stroke="#000" stroke-width="1.45"/>
<text x="129.25" y="286.40" font-size="12.95" text-anchor="middle" font-family="Liberation Sans, Arial, Helvetica, sans-serif" fill="#000">A (kHz)</text>
<text x="11.10" y="164.25" font-size="12.9" text-anchor="middle" font-family="Liberation Sans, Arial, Helvetica, sans-serif" fill="#000" transform="rotate(-90 11.10 164.25)">B (kHz)</text>
<text x="0.00" y="0.00" font-size="18.8" text-anchor="start" font-weight="bold" font-family="Liberation Sans, Arial, Helvetica, sans-serif" fill="#000" transform="translate(253.90 14.50) scale(0.915 1)">(b)</text>
<rect x="277.00" y="59.70" width="165.60" height="12.50" fill="url(#hot)"/>
<rect x="277.00" y="59.70" width="165.60" height="12.50" fill="none" stroke="#000" stroke-width="1.45"/>
<line x1="277.00" y1="59.70" x2="277.00" y2="53.80" stroke="#000" stroke-width="1.45"/>
<text x="277.00" y="48.50" font-size="10.7" text-anchor="middle" font-family="Liberation Sans, Arial, Helvetica, sans-serif" fill="#000">0</text>
<line x1="310.12" y1="59.70" x2="310.12" y2="53.80" stroke="#000" stroke-width="1.45"/>
<text x="310.12" y="48.50" font-size="10.7" text-anchor="middle" font-family="Liberation Sans, Arial, Helvetica, sans-serif" fill="#000">20</text>
<line x1="343.24" y1="59.70" x2="343.24" y2="53.80" stroke="#000" stroke-width="1.45"/>
<text x="343.24" y="48.50" font-size="10.7" text-anchor="middle" font-family="Liberation Sans, Arial, Helvetica, sans-serif" fill="#000">40</text>
<line x1="376.36" y1="59.70" x2="376.36" y2="53.80" stroke="#000" stroke-width="1.45"/>
<text x="376.36" y="48.50" font-size="10.7" text-anchor="middle" font-family="Liberation Sans, Arial, Helvetica, sans-serif" fill="#000">60</text>
<line x1="409.48" y1="59.70" x2="409.48" y2="53.80" stroke="#000" stroke-width="1.45"/>
<text x="409.48" y="48.50" font-size="10.7" text-anchor="middle" font-family="Liberation Sans, Arial, Helvetica, sans-serif" fill="#000">80</text>
<line x1="442.60" y1="59.70" x2="442.60" y2="53.80" stroke="#000" stroke-width="1.45"/>
<text x="442.60" y="48.50" font-size="10.7" text-anchor="middle" font-family="Liberation Sans, Arial, Helvetica, sans-serif" fill="#000">100</text>
<text x="361.55" y="32.90" font-size="12.95" text-anchor="middle" font-family="Liberation Sans, Arial, Helvetica, sans-serif" fill="#000">Error (%)</text>
<rect x="277.30" y="84.60" width="165.10" height="165.70" fill="none" stroke="#000" stroke-width="1.45"/>
<line x1="277.30" y1="250.30" x2="277.30" y2="259.70" stroke="#000" stroke-width="1.45"/>
<text x="277.30" y="271.30" font-size="10.7" text-anchor="middle" font-family="Liberation Sans, Arial, Helvetica, sans-serif" fill="#000">20</text>
<line x1="310.32" y1="250.30" x2="310.32" y2="259.70" stroke="#000" stroke-width="1.45"/>
<text x="310.32" y="271.30" font-size="10.7" text-anchor="middle" font-family="Liberation Sans, Arial, Helvetica, sans-serif" fill="#000">22</text>
<line x1="343.34" y1="250.30" x2="343.34" y2="259.70" stroke="#000" stroke-width="1.45"/>
<text x="343.34" y="271.30" font-size="10.7" text-anchor="middle" font-family="Liberation Sans, Arial, Helvetica, sans-serif" fill="#000">24</text>
<line x1="376.36" y1="250.30" x2="376.36" y2="259.70" stroke="#000" stroke-width="1.45"/>
<text x="376.36" y="271.30" font-size="10.7" text-anchor="middle" font-family="Liberation Sans, Arial, Helvetica, sans-serif" fill="#000">26</text>
<line x1="409.38" y1="250.30" x2="409.38" y2="259.70" stroke="#000" stroke-width="1.45"/>
<text x="409.38" y="271.30" font-size="10.7" text-anchor="middle" font-family="Liberation Sans, Arial, Helvetica, sans-serif" fill="#000">28</text>
<line x1="442.40" y1="250.30" x2="442.40" y2="259.70" stroke="#000" stroke-width="1.45"/>
<text x="442.40" y="271.30" font-size="10.7" text-anchor="middle" font-family="Liberation Sans, Arial, Helvetica, sans-serif" fill="#000">30</text>
<line x1="293.81" y1="250.30" x2="293.81" y2="255.00" stroke="#000" stroke-width="1.45"/>
<line x1="326.83" y1="250.30" x2="326.83" y2="255.00" stroke="#000" stroke-width="1.45"/>
<line x1="359.85" y1="250.30" x2="359.85" y2="255.00" stroke="#000" stroke-width="1.45"/>
<line x1="392.87" y1="250.30" x2="392.87" y2="255.00" stroke="#000" stroke-width="1.45"/>
<line x1="425.89" y1="250.30" x2="425.89" y2="255.00" stroke="#000" stroke-width="1.45"/>
<line x1="277.30" y1="250.30" x2="267.90" y2="250.30" stroke="#000" stroke-width="1.45"/>
<text x="265.50" y="254.10" font-size="10.7" text-anchor="end" font-family="Liberation Sans, Arial, Helvetica, sans-serif" fill="#000">20</text>
<line x1="277.30" y1="217.16" x2="267.90" y2="217.16" stroke="#000" stroke-width="1.45"/>
<text x="265.50" y="220.96" font-size="10.7" text-anchor="end" font-family="Liberation Sans, Arial, Helvetica, sans-serif" fill="#000">22</text>
<line x1="277.30" y1="184.02" x2="267.90" y2="184.02" stroke="#000" stroke-width="1.45"/>
<text x="265.50" y="187.82" font-size="10.7" text-anchor="end" font-family="Liberation Sans, Arial, Helvetica, sans-serif" fill="#000">24</text>
<line x1="277.30" y1="150.88" x2="267.90" y2="150.88" stroke="#000" stroke-width="1.45"/>
<text x="265.50" y="154.68" font-size="10.7" text-anchor="end" font-family="Liberation Sans, Arial, Helvetica, sans-serif" fill="#000">26</text>
<line x1="277.30" y1="117.74" x2="267.90" y2="117.74" stroke="#000" stroke-width="1.45"/>
<text x="265.50" y="121.54" font-size="10.7" text-anchor="end" font-family="Liberation Sans, Arial, Helvetica, sans-serif" fill="#000">28</text>
<line x1="277.30" y1="84.60" x2="267.90" y2="84.60" stroke="#000" stroke-width="1.45"/>
<text x="265.50" y="88.40" font-size="10.7" text-anchor="end" font-family="Liberation Sans, Arial, Helvetica, sans-serif" fill="#000">30</text>
<line x1="277.30" y1="233.73" x2="272.60" y2="233.73" stroke="#000" stroke-width="1.45"/>
<line x1="277.30" y1="200.59" x2="272.60" y2="200.59" stroke="#000" stroke-width="1.45"/>
<line x1="277.30" y1="167.45" x2="272.60" y2="167.45" stroke="#000" stroke-width="1.45"/>
<line x1="277.30" y1="134.31" x2="272.60" y2="134.31" stroke="#000" stroke-width="1.45"/>
<line x1="277.30" y1="101.17" x2="272.60" y2="101.17" stroke="#000" stroke-width="1.45"/>
<text x="361.55" y="286.40" font-size="12.95" text-anchor="middle" font-family="Liberation Sans, Arial, Helvetica, sans-serif" fill="#000">A (kHz)</text>
<text x="246.30" y="162.85" font-size="12.9" text-anchor="middle" font-family="Liberation Sans, Arial, Helvetica, sans-serif" fill="#000" transform="rotate(-90 246.30 162.85)">B (kHz)</text>
<text x="0.00" y="0.00" font-size="18.8" text-anchor="start" font-weight="bold" font-family="Liberation Sans, Arial, Helvetica, sans-serif" fill="#000" transform="translate(486.00 14.50) scale(0.915 1)">(c)</text>
<rect x="509.70" y="59.70" width="165.70" height="12.50" fill="url(#hot)"/>
<rect x="509.70" y="59.70" width="165.70" height="12.50" fill="none" stroke="#000" stroke-width="1.45"/>
<line x1="509.70" y1="59.70" x2="509.70" y2="53.80" stroke="#000" stroke-width="1.45"/>
<text x="509.70" y="48.50" font-size="10.7" text-anchor="middle" font-family="Liberation Sans, Arial, Helvetica, sans-serif" fill="#000">0</text>
<line x1="542.84" y1="59.70" x2="542.84" y2="53.80" stroke="#000" stroke-width="1.45"/>
<text x="542.84" y="48.50" font-size="10.7" text-anchor="middle" font-family="Liberation Sans, Arial, Helvetica, sans-serif" fill="#000">20</text>
<line x1="575.98" y1="59.70" x2="575.98" y2="53.80" stroke="#000" stroke-width="1.45"/>
<text x="575.98" y="48.50" font-size="10.7" text-anchor="middle" font-family="Liberation Sans, Arial, Helvetica, sans-serif" fill="#000">40</text>
<line x1="609.12" y1="59.70" x2="609.12" y2="53.80" stroke="#000" stroke-width="1.45"/>
<text x="609.12" y="48.50" font-size="10.7" text-anchor="middle" font-family="Liberation Sans, Arial, Helvetica, sans-serif" fill="#000">60</text>
<line x1="642.26" y1="59.70" x2="642.26" y2="53.80" stroke="#000" stroke-width="1.45"/>
<text x="642.26" y="48.50" font-size="10.7" text-anchor="middle" font-family="Liberation Sans, Arial, Helvetica, sans-serif" fill="#000">80</text>
<line x1="675.40" y1="59.70" x2="675.40" y2="53.80" stroke="#000" stroke-width="1.45"/>
<text x="675.40" y="48.50" font-size="10.7" text-anchor="middle" font-family="Liberation Sans, Arial, Helvetica, sans-serif" fill="#000">100</text>
<text x="593.75" y="32.90" font-size="12.95" text-anchor="middle" font-family="Liberation Sans, Arial, Helvetica, sans-serif" fill="#000">Error (%)</text>
<rect x="508.90" y="84.60" width="166.30" height="165.70" fill="none" stroke="#000" stroke-width="1.45"/>
<line x1="527.69" y1="250.30" x2="527.69" y2="259.70" stroke="#000" stroke-width="1.45"/>
<text x="527.69" y="271.30" font-size="10.7" text-anchor="middle" font-family="Liberation Sans, Arial, Helvetica, sans-serif" fill="#000">46</text>
<line x1="560.36" y1="250.30" x2="560.36" y2="259.70" stroke="#000" stroke-width="1.45"/>
<text x="560.36" y="271.30" font-size="10.7" text-anchor="middle" font-family="Liberation Sans, Arial, Helvetica, sans-serif" fill="#000">48</text>
<line x1="593.03" y1="250.30" x2="593.03" y2="259.70" stroke="#000" stroke-width="1.45"/>
<text x="593.03" y="271.30" font-size="10.7" text-anchor="middle" font-family="Liberation Sans, Arial, Helvetica, sans-serif" fill="#000">50</text>
<line x1="625.70" y1="250.30" x2="625.70" y2="259.70" stroke="#000" stroke-width="1.45"/>
<text x="625.70" y="271.30" font-size="10.7" text-anchor="middle" font-family="Liberation Sans, Arial, Helvetica, sans-serif" fill="#000">52</text>
<line x1="658.37" y1="250.30" x2="658.37" y2="259.70" stroke="#000" stroke-width="1.45"/>
<text x="658.37" y="271.30" font-size="10.7" text-anchor="middle" font-family="Liberation Sans, Arial, Helvetica, sans-serif" fill="#000">54</text>
<line x1="509.50" y1="250.30" x2="509.50" y2="255.00" stroke="#000" stroke-width="1.45"/>
<line x1="544.02" y1="250.30" x2="544.02" y2="255.00" stroke="#000" stroke-width="1.45"/>
<line x1="576.69" y1="250.30" x2="576.69" y2="255.00" stroke="#000" stroke-width="1.45"/>
<line x1="609.37" y1="250.30" x2="609.37" y2="255.00" stroke="#000" stroke-width="1.45"/>
<line x1="642.04" y1="250.30" x2="642.04" y2="255.00" stroke="#000" stroke-width="1.45"/>
<line x1="674.71" y1="250.30" x2="674.71" y2="255.00" stroke="#000" stroke-width="1.45"/>
<line x1="508.90" y1="231.82" x2="499.50" y2="231.82" stroke="#000" stroke-width="1.45"/>
<text x="497.10" y="235.62" font-size="10.7" text-anchor="end" font-family="Liberation Sans, Arial, Helvetica, sans-serif" fill="#000">46</text>
<line x1="508.90" y1="199.10" x2="499.50" y2="199.10" stroke="#000" stroke-width="1.45"/>
<text x="497.10" y="202.90" font-size="10.7" text-anchor="end" font-family="Liberation Sans, Arial, Helvetica, sans-serif" fill="#000">48</text>
<line x1="508.90" y1="166.39" x2="499.50" y2="166.39" stroke="#000" stroke-width="1.45"/>
<text x="497.10" y="170.19" font-size="10.7" text-anchor="end" font-family="Liberation Sans, Arial, Helvetica, sans-serif" fill="#000">50</text>
<line x1="508.90" y1="133.67" x2="499.50" y2="133.67" stroke="#000" stroke-width="1.45"/>
<text x="497.10" y="137.47" font-size="10.7" text-anchor="end" font-family="Liberation Sans, Arial, Helvetica, sans-serif" fill="#000">52</text>
<line x1="508.90" y1="100.96" x2="499.50" y2="100.96" stroke="#000" stroke-width="1.45"/>
<text x="497.10" y="104.76" font-size="10.7" text-anchor="end" font-family="Liberation Sans, Arial, Helvetica, sans-serif" fill="#000">54</text>
<line x1="508.90" y1="249.80" x2="504.20" y2="249.80" stroke="#000" stroke-width="1.45"/>
<line x1="508.90" y1="215.46" x2="504.20" y2="215.46" stroke="#000" stroke-width="1.45"/>
<line x1="508.90" y1="182.74" x2="504.20" y2="182.74" stroke="#000" stroke-width="1.45"/>
<line x1="508.90" y1="150.03" x2="504.20" y2="150.03" stroke="#000" stroke-width="1.45"/>
<line x1="508.90" y1="117.31" x2="504.20" y2="117.31" stroke="#000" stroke-width="1.45"/>
<line x1="508.90" y1="84.60" x2="504.20" y2="84.60" stroke="#000" stroke-width="1.45"/>
<text x="593.75" y="286.40" font-size="12.95" text-anchor="middle" font-family="Liberation Sans, Arial, Helvetica, sans-serif" fill="#000">A (kHz)</text>
<text x="477.30" y="163.85" font-size="12.9" text-anchor="middle" font-family="Liberation Sans, Arial, Helvetica, sans-serif" fill="#000" transform="rotate(-90 477.30 163.85)">B (kHz)</text>
<text x="0.00" y="0.00" font-size="18.8" text-anchor="start" font-weight="bold" font-family="Liberation Sans, Arial, Helvetica, sans-serif" fill="#000" transform="translate(22.20 306.00) scale(0.915 1)">(d)</text>
<rect x="44.60" y="348.00" width="165.60" height="12.30" fill="url(#hot)"/>
<rect x="44.60" y="348.00" width="165.60" height="12.30" fill="none" stroke="#000" stroke-width="1.45"/>
<line x1="44.60" y1="348.00" x2="44.60" y2="342.20" stroke="#000" stroke-width="1.45"/>
<text x="44.60" y="337.00" font-size="10.7" text-anchor="middle" font-family="Liberation Sans, Arial, Helvetica, sans-serif" fill="#000">0</text>
<line x1="77.72" y1="348.00" x2="77.72" y2="342.20" stroke="#000" stroke-width="1.45"/>
<text x="77.72" y="337.00" font-size="10.7" text-anchor="middle" font-family="Liberation Sans, Arial, Helvetica, sans-serif" fill="#000">20</text>
<line x1="110.84" y1="348.00" x2="110.84" y2="342.20" stroke="#000" stroke-width="1.45"/>
<text x="110.84" y="337.00" font-size="10.7" text-anchor="middle" font-family="Liberation Sans, Arial, Helvetica, sans-serif" fill="#000">40</text>
<line x1="143.96" y1="348.00" x2="143.96" y2="342.20" stroke="#000" stroke-width="1.45"/>
<text x="143.96" y="337.00" font-size="10.7" text-anchor="middle" font-family="Liberation Sans, Arial, Helvetica, sans-serif" fill="#000">60</text>
<line x1="177.08" y1="348.00" x2="177.08" y2="342.20" stroke="#000" stroke-width="1.45"/>
<text x="177.08" y="337.00" font-size="10.7" text-anchor="middle" font-family="Liberation Sans, Arial, Helvetica, sans-serif" fill="#000">80</text>
<line x1="210.20" y1="348.00" x2="210.20" y2="342.20" stroke="#000" stroke-width="1.45"/>
<text x="210.20" y="337.00" font-size="10.7" text-anchor="middle" font-family="Liberation Sans, Arial, Helvetica, sans-serif" fill="#000">100</text>
<text x="129.25" y="321.30" font-size="12.95" text-anchor="middle" font-family="Liberation Sans, Arial, Helvetica, sans-serif" fill="#000">Error (%)</text>
<rect x="45.10" y="377.70" width="164.90" height="165.70" fill="none" stroke="#000" stroke-width="1.45"/>
<line x1="62.55" y1="543.40" x2="62.55" y2="552.80" stroke="#000" stroke-width="1.45"/>
<text x="62.55" y="564.40" font-size="10.7" text-anchor="middle" font-family="Liberation Sans, Arial, Helvetica, sans-serif" fill="#000">-80</text>
<line x1="95.32" y1="543.40" x2="95.32" y2="552.80" stroke="#000" stroke-width="1.45"/>
<text x="95.32" y="564.40" font-size="10.7" text-anchor="middle" font-family="Liberation Sans, Arial, Helvetica, sans-serif" fill="#000">-40</text>
<line x1="128.08" y1="543.40" x2="128.08" y2="552.80" stroke="#000" stroke-width="1.45"/>
<text x="128.08" y="564.40" font-size="10.7" text-anchor="middle" font-family="Liberation Sans, Arial, Helvetica, sans-serif" fill="#000">0</text>
<line x1="160.85" y1="543.40" x2="160.85" y2="552.80" stroke="#000" stroke-width="1.45"/>
<text x="160.85" y="564.40" font-size="10.7" text-anchor="middle" font-family="Liberation Sans, Arial, Helvetica, sans-serif" fill="#000">40</text>
<line x1="193.62" y1="543.40" x2="193.62" y2="552.80" stroke="#000" stroke-width="1.45"/>
<text x="193.62" y="564.40" font-size="10.7" text-anchor="middle" font-family="Liberation Sans, Arial, Helvetica, sans-serif" fill="#000">80</text>
<line x1="45.70" y1="543.40" x2="45.70" y2="548.10" stroke="#000" stroke-width="1.45"/>
<line x1="78.93" y1="543.40" x2="78.93" y2="548.10" stroke="#000" stroke-width="1.45"/>
<line x1="111.70" y1="543.40" x2="111.70" y2="548.10" stroke="#000" stroke-width="1.45"/>
<line x1="144.47" y1="543.40" x2="144.47" y2="548.10" stroke="#000" stroke-width="1.45"/>
<line x1="177.23" y1="543.40" x2="177.23" y2="548.10" stroke="#000" stroke-width="1.45"/>
<line x1="210.00" y1="543.40" x2="210.00" y2="548.10" stroke="#000" stroke-width="1.45"/>
<line x1="45.10" y1="543.40" x2="35.70" y2="543.40" stroke="#000" stroke-width="1.45"/>
<text x="33.30" y="547.20" font-size="10.7" text-anchor="end" font-family="Liberation Sans, Arial, Helvetica, sans-serif" fill="#000">0</text>
<line x1="45.10" y1="510.26" x2="35.70" y2="510.26" stroke="#000" stroke-width="1.45"/>
<text x="33.30" y="514.06" font-size="10.7" text-anchor="end" font-family="Liberation Sans, Arial, Helvetica, sans-serif" fill="#000">20</text>
<line x1="45.10" y1="477.12" x2="35.70" y2="477.12" stroke="#000" stroke-width="1.45"/>
<text x="33.30" y="480.92" font-size="10.7" text-anchor="end" font-family="Liberation Sans, Arial, Helvetica, sans-serif" fill="#000">40</text>
<line x1="45.10" y1="443.98" x2="35.70" y2="443.98" stroke="#000" stroke-width="1.45"/>
<text x="33.30" y="447.78" font-size="10.7" text-anchor="end" font-family="Liberation Sans, Arial, Helvetica, sans-serif" fill="#000">60</text>
<line x1="45.10" y1="410.84" x2="35.70" y2="410.84" stroke="#000" stroke-width="1.45"/>
<text x="33.30" y="414.64" font-size="10.7" text-anchor="end" font-family="Liberation Sans, Arial, Helvetica, sans-serif" fill="#000">80</text>
<line x1="45.10" y1="377.70" x2="35.70" y2="377.70" stroke="#000" stroke-width="1.45"/>
<text x="33.30" y="381.50" font-size="10.7" text-anchor="end" font-family="Liberation Sans, Arial, Helvetica, sans-serif" fill="#000">100</text>
<line x1="45.10" y1="526.83" x2="40.40" y2="526.83" stroke="#000" stroke-width="1.45"/>
<line x1="45.10" y1="493.69" x2="40.40" y2="493.69" stroke="#000" stroke-width="1.45"/>
<line x1="45.10" y1="460.55" x2="40.40" y2="460.55" stroke="#000" stroke-width="1.45"/>
<line x1="45.10" y1="427.41" x2="40.40" y2="427.41" stroke="#000" stroke-width="1.45"/>
<line x1="45.10" y1="394.27" x2="40.40" y2="394.27" stroke="#000" stroke-width="1.45"/>
<text x="129.25" y="579.50" font-size="12.95" text-anchor="middle" font-family="Liberation Sans, Arial, Helvetica, sans-serif" fill="#000">A (kHz)</text>
<text x="11.10" y="458.75" font-size="12.9" text-anchor="middle" font-family="Liberation Sans, Arial, Helvetica, sans-serif" fill="#000" transform="rotate(-90 11.10 458.75)">B (kHz)</text>
<text x="0.00" y="0.00" font-size="18.8" text-anchor="start" font-weight="bold" font-family="Liberation Sans, Arial, Helvetica, sans-serif" fill="#000" transform="translate(253.10 306.00) scale(0.915 1)">(e)</text>
<rect x="277.00" y="348.00" width="165.60" height="12.30" fill="url(#hot)"/>
<rect x="277.00" y="348.00" width="165.60" height="12.30" fill="none" stroke="#000" stroke-width="1.45"/>
<line x1="277.00" y1="348.00" x2="277.00" y2="342.20" stroke="#000" stroke-width="1.45"/>
<text x="277.00" y="337.00" font-size="10.7" text-anchor="middle" font-family="Liberation Sans, Arial, Helvetica, sans-serif" fill="#000">0</text>
<line x1="310.12" y1="348.00" x2="310.12" y2="342.20" stroke="#000" stroke-width="1.45"/>
<text x="310.12" y="337.00" font-size="10.7" text-anchor="middle" font-family="Liberation Sans, Arial, Helvetica, sans-serif" fill="#000">1</text>
<line x1="343.24" y1="348.00" x2="343.24" y2="342.20" stroke="#000" stroke-width="1.45"/>
<text x="343.24" y="337.00" font-size="10.7" text-anchor="middle" font-family="Liberation Sans, Arial, Helvetica, sans-serif" fill="#000">2</text>
<line x1="376.36" y1="348.00" x2="376.36" y2="342.20" stroke="#000" stroke-width="1.45"/>
<text x="376.36" y="337.00" font-size="10.7" text-anchor="middle" font-family="Liberation Sans, Arial, Helvetica, sans-serif" fill="#000">3</text>
<line x1="409.48" y1="348.00" x2="409.48" y2="342.20" stroke="#000" stroke-width="1.45"/>
<text x="409.48" y="337.00" font-size="10.7" text-anchor="middle" font-family="Liberation Sans, Arial, Helvetica, sans-serif" fill="#000">4</text>
<line x1="442.60" y1="348.00" x2="442.60" y2="342.20" stroke="#000" stroke-width="1.45"/>
<text x="442.60" y="337.00" font-size="10.7" text-anchor="middle" font-family="Liberation Sans, Arial, Helvetica, sans-serif" fill="#000">5</text>
<text x="361.55" y="321.30" font-size="12.95" text-anchor="middle" font-family="Liberation Sans, Arial, Helvetica, sans-serif" fill="#000">Frequency Difference (kHz)</text>
<rect x="277.30" y="377.70" width="165.10" height="165.70" fill="none" stroke="#000" stroke-width="1.45"/>
<line x1="294.77" y1="543.40" x2="294.77" y2="552.80" stroke="#000" stroke-width="1.45"/>
<text x="294.77" y="564.40" font-size="10.7" text-anchor="middle" font-family="Liberation Sans, Arial, Helvetica, sans-serif" fill="#000">-80</text>
<line x1="327.58" y1="543.40" x2="327.58" y2="552.80" stroke="#000" stroke-width="1.45"/>
<text x="327.58" y="564.40" font-size="10.7" text-anchor="middle" font-family="Liberation Sans, Arial, Helvetica, sans-serif" fill="#000">-40</text>
<line x1="360.38" y1="543.40" x2="360.38" y2="552.80" stroke="#000" stroke-width="1.45"/>
<text x="360.38" y="564.40" font-size="10.7" text-anchor="middle" font-family="Liberation Sans, Arial, Helvetica, sans-serif" fill="#000">0</text>
<line x1="393.19" y1="543.40" x2="393.19" y2="552.80" stroke="#000" stroke-width="1.45"/>
<text x="393.19" y="564.40" font-size="10.7" text-anchor="middle" font-family="Liberation Sans, Arial, Helvetica, sans-serif" fill="#000">40</text>
<line x1="426.00" y1="543.40" x2="426.00" y2="552.80" stroke="#000" stroke-width="1.45"/>
<text x="426.00" y="564.40" font-size="10.7" text-anchor="middle" font-family="Liberation Sans, Arial, Helvetica, sans-serif" fill="#000">80</text>
<line x1="277.90" y1="543.40" x2="277.90" y2="548.10" stroke="#000" stroke-width="1.45"/>
<line x1="311.17" y1="543.40" x2="311.17" y2="548.10" stroke="#000" stroke-width="1.45"/>
<line x1="343.98" y1="543.40" x2="343.98" y2="548.10" stroke="#000" stroke-width="1.45"/>
<line x1="376.79" y1="543.40" x2="376.79" y2="548.10" stroke="#000" stroke-width="1.45"/>
<line x1="409.59" y1="543.40" x2="409.59" y2="548.10" stroke="#000" stroke-width="1.45"/>
<line x1="442.40" y1="543.40" x2="442.40" y2="548.10" stroke="#000" stroke-width="1.45"/>
<line x1="277.30" y1="543.40" x2="267.90" y2="543.40" stroke="#000" stroke-width="1.45"/>
<text x="265.50" y="547.20" font-size="10.7" text-anchor="end" font-family="Liberation Sans, Arial, Helvetica, sans-serif" fill="#000">0</text>
<line x1="277.30" y1="510.26" x2="267.90" y2="510.26" stroke="#000" stroke-width="1.45"/>
<text x="265.50" y="514.06" font-size="10.7" text-anchor="end" font-family="Liberation Sans, Arial, Helvetica, sans-serif" fill="#000">20</text>
<line x1="277.30" y1="477.12" x2="267.90" y2="477.12" stroke="#000" stroke-width="1.45"/>
<text x="265.50" y="480.92" font-size="10.7" text-anchor="end" font-family="Liberation Sans, Arial, Helvetica, sans-serif" fill="#000">40</text>
<line x1="277.30" y1="443.98" x2="267.90" y2="443.98" stroke="#000" stroke-width="1.45"/>
<text x="265.50" y="447.78" font-size="10.7" text-anchor="end" font-family="Liberation Sans, Arial, Helvetica, sans-serif" fill="#000">60</text>
<line x1="277.30" y1="410.84" x2="267.90" y2="410.84" stroke="#000" stroke-width="1.45"/>
<text x="265.50" y="414.64" font-size="10.7" text-anchor="end" font-family="Liberation Sans, Arial, Helvetica, sans-serif" fill="#000">80</text>
<line x1="277.30" y1="377.70" x2="267.90" y2="377.70" stroke="#000" stroke-width="1.45"/>
<text x="265.50" y="381.50" font-size="10.7" text-anchor="end" font-family="Liberation Sans, Arial, Helvetica, sans-serif" fill="#000">100</text>
<line x1="277.30" y1="526.83" x2="272.60" y2="526.83" stroke="#000" stroke-width="1.45"/>
<line x1="277.30" y1="493.69" x2="272.60" y2="493.69" stroke="#000" stroke-width="1.45"/>
<line x1="277.30" y1="460.55" x2="272.60" y2="460.55" stroke="#000" stroke-width="1.45"/>
<line x1="277.30" y1="427.41" x2="272.60" y2="427.41" stroke="#000" stroke-width="1.45"/>
<line x1="277.30" y1="394.27" x2="272.60" y2="394.27" stroke="#000" stroke-width="1.45"/>
<text x="361.55" y="579.50" font-size="12.95" text-anchor="middle" font-family="Liberation Sans, Arial, Helvetica, sans-serif" fill="#000">A (kHz)</text>
<text x="246.30" y="458.05" font-size="12.9" text-anchor="middle" font-family="Liberation Sans, Arial, Helvetica, sans-serif" fill="#000" transform="rotate(-90 246.30 458.05)">B (kHz)</text>
<text x="0.00" y="0.00" font-size="18.8" text-anchor="start" font-weight="bold" font-family="Liberation Sans, Arial, Helvetica, sans-serif" fill="#000" transform="translate(486.00 306.00) scale(0.915 1)">(f)</text>
<rect x="509.80" y="348.00" width="165.60" height="12.30" fill="url(#hot)"/>
<rect x="509.80" y="348.00" width="165.60" height="12.30" fill="none" stroke="#000" stroke-width="1.45"/>
<line x1="509.80" y1="348.00" x2="509.80" y2="342.20" stroke="#000" stroke-width="1.45"/>
<text x="509.80" y="337.00" font-size="10.7" text-anchor="middle" font-family="Liberation Sans, Arial, Helvetica, sans-serif" fill="#000">0</text>
<line x1="542.92" y1="348.00" x2="542.92" y2="342.20" stroke="#000" stroke-width="1.45"/>
<text x="542.92" y="337.00" font-size="10.7" text-anchor="middle" font-family="Liberation Sans, Arial, Helvetica, sans-serif" fill="#000">20</text>
<line x1="576.04" y1="348.00" x2="576.04" y2="342.20" stroke="#000" stroke-width="1.45"/>
<text x="576.04" y="337.00" font-size="10.7" text-anchor="middle" font-family="Liberation Sans, Arial, Helvetica, sans-serif" fill="#000">40</text>
<line x1="609.16" y1="348.00" x2="609.16" y2="342.20" stroke="#000" stroke-width="1.45"/>
<text x="609.16" y="337.00" font-size="10.7" text-anchor="middle" font-family="Liberation Sans, Arial, Helvetica, sans-serif" fill="#000">60</text>
<line x1="642.28" y1="348.00" x2="642.28" y2="342.20" stroke="#000" stroke-width="1.45"/>
<text x="642.28" y="337.00" font-size="10.7" text-anchor="middle" font-family="Liberation Sans, Arial, Helvetica, sans-serif" fill="#000">80</text>
<line x1="675.40" y1="348.00" x2="675.40" y2="342.20" stroke="#000" stroke-width="1.45"/>
<text x="675.40" y="337.00" font-size="10.7" text-anchor="middle" font-family="Liberation Sans, Arial, Helvetica, sans-serif" fill="#000">100</text>
<text x="594.20" y="321.30" font-size="12.95" text-anchor="middle" font-family="Liberation Sans, Arial, Helvetica, sans-serif" fill="#000">Overlap Probability (%)</text>
<rect x="509.80" y="377.70" width="165.40" height="165.70" fill="none" stroke="#000" stroke-width="1.45"/>
<line x1="527.30" y1="543.40" x2="527.30" y2="552.80" stroke="#000" stroke-width="1.45"/>
<text x="527.30" y="564.40" font-size="10.7" text-anchor="middle" font-family="Liberation Sans, Arial, Helvetica, sans-serif" fill="#000">-80</text>
<line x1="560.17" y1="543.40" x2="560.17" y2="552.80" stroke="#000" stroke-width="1.45"/>
<text x="560.17" y="564.40" font-size="10.7" text-anchor="middle" font-family="Liberation Sans, Arial, Helvetica, sans-serif" fill="#000">-40</text>
<line x1="593.03" y1="543.40" x2="593.03" y2="552.80" stroke="#000" stroke-width="1.45"/>
<text x="593.03" y="564.40" font-size="10.7" text-anchor="middle" font-family="Liberation Sans, Arial, Helvetica, sans-serif" fill="#000">0</text>
<line x1="625.90" y1="543.40" x2="625.90" y2="552.80" stroke="#000" stroke-width="1.45"/>
<text x="625.90" y="564.40" font-size="10.7" text-anchor="middle" font-family="Liberation Sans, Arial, Helvetica, sans-serif" fill="#000">40</text>
<line x1="658.77" y1="543.40" x2="658.77" y2="552.80" stroke="#000" stroke-width="1.45"/>
<text x="658.77" y="564.40" font-size="10.7" text-anchor="middle" font-family="Liberation Sans, Arial, Helvetica, sans-serif" fill="#000">80</text>
<line x1="510.40" y1="543.40" x2="510.40" y2="548.10" stroke="#000" stroke-width="1.45"/>
<line x1="543.73" y1="543.40" x2="543.73" y2="548.10" stroke="#000" stroke-width="1.45"/>
<line x1="576.60" y1="543.40" x2="576.60" y2="548.10" stroke="#000" stroke-width="1.45"/>
<line x1="609.47" y1="543.40" x2="609.47" y2="548.10" stroke="#000" stroke-width="1.45"/>
<line x1="642.33" y1="543.40" x2="642.33" y2="548.10" stroke="#000" stroke-width="1.45"/>
<line x1="675.20" y1="543.40" x2="675.20" y2="548.10" stroke="#000" stroke-width="1.45"/>
<line x1="509.80" y1="543.40" x2="500.40" y2="543.40" stroke="#000" stroke-width="1.45"/>
<text x="498.00" y="547.20" font-size="10.7" text-anchor="end" font-family="Liberation Sans, Arial, Helvetica, sans-serif" fill="#000">0</text>
<line x1="509.80" y1="510.26" x2="500.40" y2="510.26" stroke="#000" stroke-width="1.45"/>
<text x="498.00" y="514.06" font-size="10.7" text-anchor="end" font-family="Liberation Sans, Arial, Helvetica, sans-serif" fill="#000">20</text>
<line x1="509.80" y1="477.12" x2="500.40" y2="477.12" stroke="#000" stroke-width="1.45"/>
<text x="498.00" y="480.92" font-size="10.7" text-anchor="end" font-family="Liberation Sans, Arial, Helvetica, sans-serif" fill="#000">40</text>
<line x1="509.80" y1="443.98" x2="500.40" y2="443.98" stroke="#000" stroke-width="1.45"/>
<text x="498.00" y="447.78" font-size="10.7" text-anchor="end" font-family="Liberation Sans, Arial, Helvetica, sans-serif" fill="#000">60</text>
<line x1="509.80" y1="410.84" x2="500.40" y2="410.84" stroke="#000" stroke-width="1.45"/>
<text x="498.00" y="414.64" font-size="10.7" text-anchor="end" font-family="Liberation Sans, Arial, Helvetica, sans-serif" fill="#000">80</text>
<line x1="509.80" y1="377.70" x2="500.40" y2="377.70" stroke="#000" stroke-width="1.45"/>
<text x="498.00" y="381.50" font-size="10.7" text-anchor="end" font-family="Liberation Sans, Arial, Helvetica, sans-serif" fill="#000">100</text>
<line x1="509.80" y1="526.83" x2="505.10" y2="526.83" stroke="#000" stroke-width="1.45"/>
<line x1="509.80" y1="493.69" x2="505.10" y2="493.69" stroke="#000" stroke-width="1.45"/>
<line x1="509.80" y1="460.55" x2="505.10" y2="460.55" stroke="#000" stroke-width="1.45"/>
<line x1="509.80" y1="427.41" x2="505.10" y2="427.41" stroke="#000" stroke-width="1.45"/>
<line x1="509.80" y1="394.27" x2="505.10" y2="394.27" stroke="#000" stroke-width="1.45"/>
<text x="594.20" y="579.50" font-size="12.95" text-anchor="middle" font-family="Liberation Sans, Arial, Helvetica, sans-serif" fill="#000">A (kHz)</text>
<text x="478.80" y="458.95" font-size="12.9" text-anchor="middle" font-family="Liberation Sans, Arial, Helvetica, sans-serif" fill="#000" transform="rotate(-90 478.80 458.95)">B (kHz)</text>
</svg>
</body></html>
